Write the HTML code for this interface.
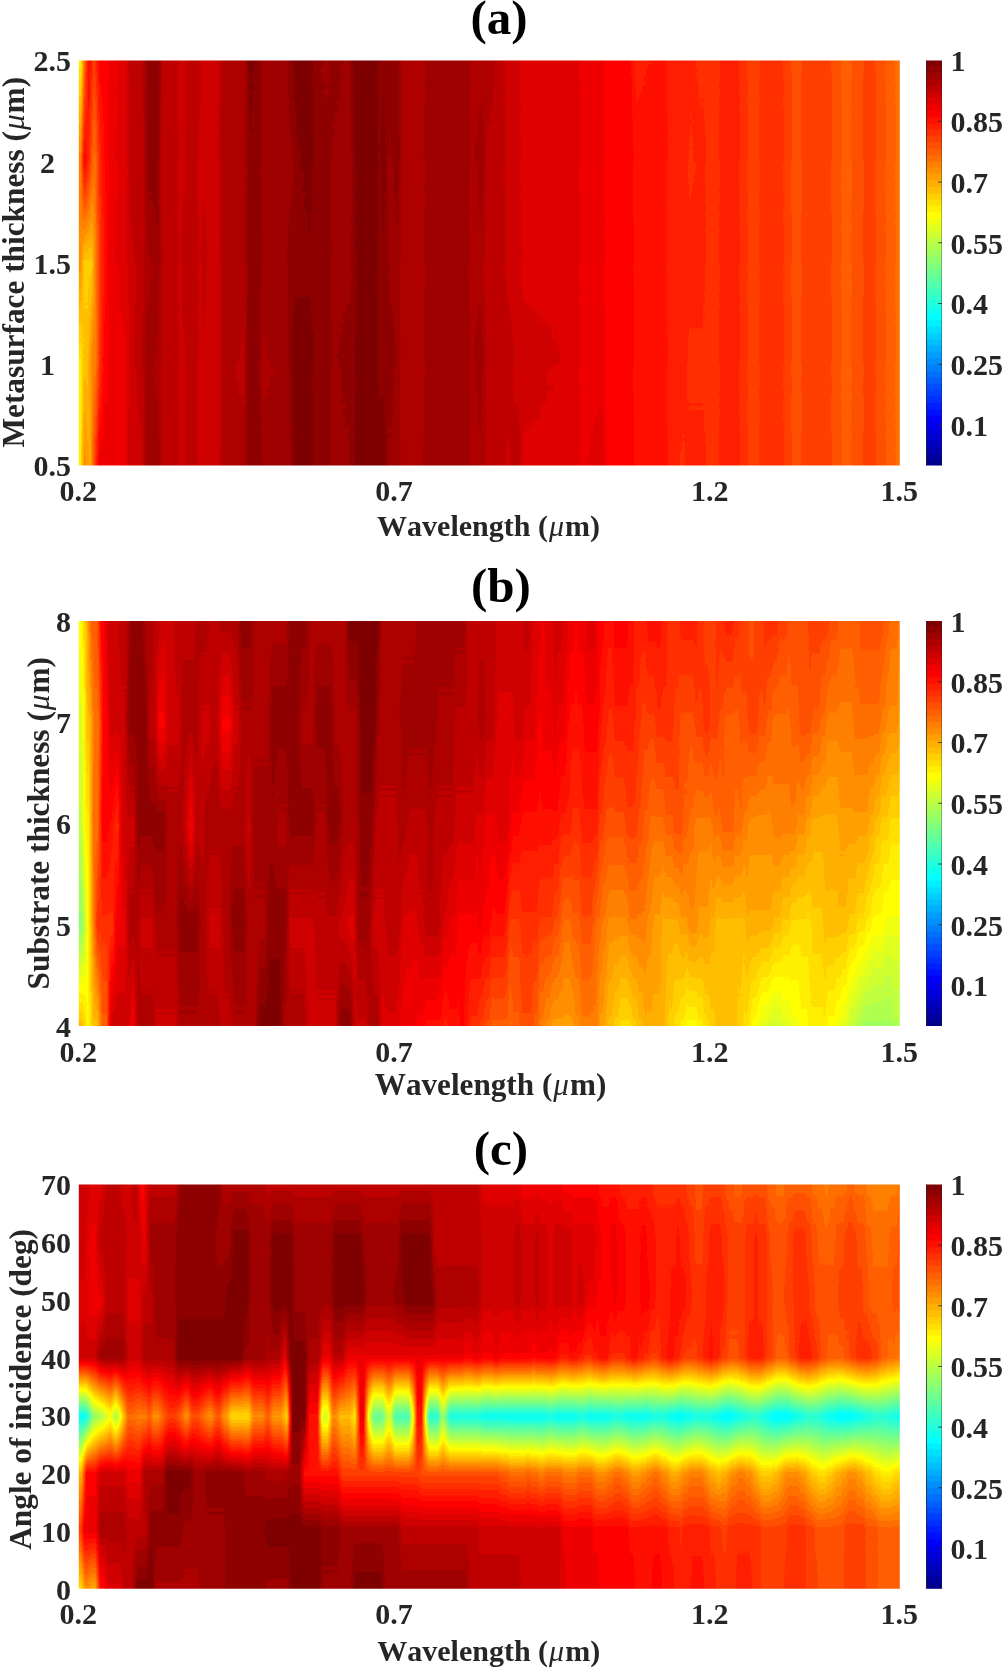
<!DOCTYPE html>
<html><head><meta charset="utf-8"><title>Figure</title>
<style>html,body{margin:0;padding:0;background:#fff;overflow:hidden}svg{display:block}text{font-family:"Liberation Serif",serif;font-weight:bold;font-size:30px;fill:#262626;font-kerning:none}.t{font-size:30px}</style></head>
<body>
<svg width="1003" height="1669" viewBox="0 0 1003 1669">
<defs>
<filter id="jet" x="0" y="0" width="1" height="1" filterUnits="objectBoundingBox" color-interpolation-filters="sRGB"><feComponentTransfer><feFuncR type="discrete" tableValues="0 0 0 0 0 0 0 0 0 0 0 0 0 0 0 0 0 0 0 0 0 0 0 0 0.0625 0.125 0.1875 0.25 0.3125 0.375 0.4375 0.5 0.5625 0.625 0.6875 0.75 0.8125 0.875 0.9375 1 1 1 1 1 1 1 1 1 1 1 1 1 1 1 1 1 0.9375 0.875 0.8125 0.75 0.6875 0.625 0.5625 0.5"/><feFuncG type="discrete" tableValues="0 0 0 0 0 0 0 0 0.0625 0.125 0.1875 0.25 0.3125 0.375 0.4375 0.5 0.5625 0.625 0.6875 0.75 0.8125 0.875 0.9375 1 1 1 1 1 1 1 1 1 1 1 1 1 1 1 1 1 0.9375 0.875 0.8125 0.75 0.6875 0.625 0.5625 0.5 0.4375 0.375 0.3125 0.25 0.1875 0.125 0.0625 0 0 0 0 0 0 0 0 0"/><feFuncB type="discrete" tableValues="0.5625 0.625 0.6875 0.75 0.8125 0.875 0.9375 1 1 1 1 1 1 1 1 1 1 1 1 1 1 1 1 1 0.9375 0.875 0.8125 0.75 0.6875 0.625 0.5625 0.5 0.4375 0.375 0.3125 0.25 0.1875 0.125 0.0625 0 0 0 0 0 0 0 0 0 0 0 0 0 0 0 0 0 0 0 0 0 0 0 0 0"/></feComponentTransfer></filter>
<filter id="jetb" x="0" y="0" width="1" height="1" filterUnits="objectBoundingBox" color-interpolation-filters="sRGB"><feGaussianBlur stdDeviation="0 1.8"/><feComponentTransfer><feFuncR type="discrete" tableValues="0 0 0 0 0 0 0 0 0 0 0 0 0 0 0 0 0 0 0 0 0 0 0 0 0.0625 0.125 0.1875 0.25 0.3125 0.375 0.4375 0.5 0.5625 0.625 0.6875 0.75 0.8125 0.875 0.9375 1 1 1 1 1 1 1 1 1 1 1 1 1 1 1 1 1 0.9375 0.875 0.8125 0.75 0.6875 0.625 0.5625 0.5"/><feFuncG type="discrete" tableValues="0 0 0 0 0 0 0 0 0.0625 0.125 0.1875 0.25 0.3125 0.375 0.4375 0.5 0.5625 0.625 0.6875 0.75 0.8125 0.875 0.9375 1 1 1 1 1 1 1 1 1 1 1 1 1 1 1 1 1 0.9375 0.875 0.8125 0.75 0.6875 0.625 0.5625 0.5 0.4375 0.375 0.3125 0.25 0.1875 0.125 0.0625 0 0 0 0 0 0 0 0 0"/><feFuncB type="discrete" tableValues="0.5625 0.625 0.6875 0.75 0.8125 0.875 0.9375 1 1 1 1 1 1 1 1 1 1 1 1 1 1 1 1 1 0.9375 0.875 0.8125 0.75 0.6875 0.625 0.5625 0.5 0.4375 0.375 0.3125 0.25 0.1875 0.125 0.0625 0 0 0 0 0 0 0 0 0 0 0 0 0 0 0 0 0 0 0 0 0 0 0 0 0"/></feComponentTransfer></filter>
<linearGradient id="va" x1="0" y1="0" x2="0" y2="1"><stop offset="0" stop-color="#fff" stop-opacity="0"/><stop offset="1" stop-color="#fff" stop-opacity="1"/></linearGradient>
<mask id="vm" maskContentUnits="objectBoundingBox"><rect width="1" height="1" fill="url(#va)"/></mask>
<linearGradient id="cbg" x1="0" y1="0" x2="0" y2="1"><stop offset="0" stop-color="#fff"/><stop offset="1" stop-color="#000"/></linearGradient>
</defs>
<rect width="1003" height="1669" fill="#fff"/>
<!-- panel a -->
<defs><linearGradient id="ar0" gradientUnits="userSpaceOnUse" x1="78.8" y1="0" x2="899.8" y2="0"><stop offset="0" stop-color="#a2a2a2"/><stop offset="0.0027" stop-color="#a2a2a2"/><stop offset="0.0076" stop-color="#c6c6c6"/><stop offset="0.0124" stop-color="#dedede"/><stop offset="0.0185" stop-color="#cecece"/><stop offset="0.0252" stop-color="#dedede"/><stop offset="0.0313" stop-color="#dedede"/><stop offset="0.0337" stop-color="#dedede"/><stop offset="0.0398" stop-color="#e2e2e2"/><stop offset="0.0572" stop-color="#e6e6e6"/><stop offset="0.0618" stop-color="#eeeeee"/><stop offset="0.0762" stop-color="#eeeeee"/><stop offset="0.0851" stop-color="#fafafa"/><stop offset="0.097" stop-color="#fafafa"/><stop offset="0.1027" stop-color="#eeeeee"/><stop offset="0.118" stop-color="#eeeeee"/><stop offset="0.123" stop-color="#eaeaea"/><stop offset="0.1283" stop-color="#eaeaea"/><stop offset="0.133" stop-color="#eeeeee"/><stop offset="0.1423" stop-color="#eeeeee"/><stop offset="0.1466" stop-color="#eeeeee"/><stop offset="0.1515" stop-color="#eaeaea"/><stop offset="0.157" stop-color="#eaeaea"/><stop offset="0.1688" stop-color="#eaeaea"/><stop offset="0.1759" stop-color="#f2f2f2"/><stop offset="0.201" stop-color="#f2f2f2"/><stop offset="0.208" stop-color="#fefefe"/><stop offset="0.2192" stop-color="#fafafa"/><stop offset="0.2246" stop-color="#f6f6f6"/><stop offset="0.2523" stop-color="#f6f6f6"/><stop offset="0.2575" stop-color="#fafafa"/><stop offset="0.2653" stop-color="#fefefe"/><stop offset="0.2817" stop-color="#fefefe"/><stop offset="0.2859" stop-color="#fafafa"/><stop offset="0.3029" stop-color="#f6f6f6"/><stop offset="0.3091" stop-color="#fafafa"/><stop offset="0.3294" stop-color="#f6f6f6"/><stop offset="0.3361" stop-color="#fefefe"/><stop offset="0.3401" stop-color="#fefefe"/><stop offset="0.3627" stop-color="#fefefe"/><stop offset="0.3651" stop-color="#fafafa"/><stop offset="0.3722" stop-color="#fafafa"/><stop offset="0.3777" stop-color="#fafafa"/><stop offset="0.3873" stop-color="#fafafa"/><stop offset="0.3951" stop-color="#f2f2f2"/><stop offset="0.419" stop-color="#f2f2f2"/><stop offset="0.4253" stop-color="#f6f6f6"/><stop offset="0.4726" stop-color="#f6f6f6"/><stop offset="0.4797" stop-color="#f2f2f2"/><stop offset="0.4891" stop-color="#f2f2f2"/><stop offset="0.4978" stop-color="#f2f2f2"/><stop offset="0.5152" stop-color="#eeeeee"/><stop offset="0.5223" stop-color="#eaeaea"/><stop offset="0.5342" stop-color="#eaeaea"/><stop offset="0.5404" stop-color="#e6e6e6"/><stop offset="0.6063" stop-color="#e6e6e6"/><stop offset="0.612" stop-color="#e2e2e2"/><stop offset="0.6364" stop-color="#e2e2e2"/><stop offset="0.6428" stop-color="#dedede"/><stop offset="0.6708" stop-color="#dedede"/><stop offset="0.6794" stop-color="#d6d6d6"/><stop offset="0.7121" stop-color="#dadada"/><stop offset="0.7197" stop-color="#d6d6d6"/><stop offset="0.7392" stop-color="#d6d6d6"/><stop offset="0.7427" stop-color="#d6d6d6"/><stop offset="0.7597" stop-color="#d2d2d2"/><stop offset="0.7658" stop-color="#d2d2d2"/><stop offset="0.778" stop-color="#d2d2d2"/><stop offset="0.784" stop-color="#d6d6d6"/><stop offset="0.8011" stop-color="#d6d6d6"/><stop offset="0.8072" stop-color="#d2d2d2"/><stop offset="0.8108" stop-color="#d2d2d2"/><stop offset="0.8169" stop-color="#cecece"/><stop offset="0.8267" stop-color="#cecece"/><stop offset="0.8328" stop-color="#d2d2d2"/><stop offset="0.8547" stop-color="#d2d2d2"/><stop offset="0.8608" stop-color="#cecece"/><stop offset="0.8644" stop-color="#cecece"/><stop offset="0.8705" stop-color="#cacaca"/><stop offset="0.8778" stop-color="#cacaca"/><stop offset="0.8839" stop-color="#cecece"/><stop offset="0.8949" stop-color="#cecece"/><stop offset="0.901" stop-color="#cecece"/><stop offset="0.9132" stop-color="#cecece"/><stop offset="0.9192" stop-color="#cacaca"/><stop offset="0.9253" stop-color="#cacaca"/><stop offset="0.9314" stop-color="#c6c6c6"/><stop offset="0.9387" stop-color="#c6c6c6"/><stop offset="0.9448" stop-color="#cacaca"/><stop offset="0.9533" stop-color="#cacaca"/><stop offset="0.9594" stop-color="#cecece"/><stop offset="0.9667" stop-color="#cecece"/><stop offset="0.9728" stop-color="#cacaca"/><stop offset="0.9789" stop-color="#cacaca"/><stop offset="0.985" stop-color="#c6c6c6"/><stop offset="0.9911" stop-color="#c6c6c6"/><stop offset="0.9972" stop-color="#c2c2c2"/><stop offset="1" stop-color="#c2c2c2"/></linearGradient><linearGradient id="ar1" gradientUnits="userSpaceOnUse" x1="78.8" y1="0" x2="899.8" y2="0"><stop offset="0" stop-color="#bebebe"/><stop offset="0.0021" stop-color="#bebebe"/><stop offset="0.0069" stop-color="#dedede"/><stop offset="0.0124" stop-color="#d2d2d2"/><stop offset="0.0179" stop-color="#c2c2c2"/><stop offset="0.0203" stop-color="#c2c2c2"/><stop offset="0.027" stop-color="#d6d6d6"/><stop offset="0.0337" stop-color="#dedede"/><stop offset="0.0398" stop-color="#e2e2e2"/><stop offset="0.0581" stop-color="#e6e6e6"/><stop offset="0.0627" stop-color="#eeeeee"/><stop offset="0.0789" stop-color="#eeeeee"/><stop offset="0.0847" stop-color="#fafafa"/><stop offset="0.096" stop-color="#fafafa"/><stop offset="0.1008" stop-color="#eeeeee"/><stop offset="0.1184" stop-color="#eeeeee"/><stop offset="0.1229" stop-color="#eaeaea"/><stop offset="0.128" stop-color="#eaeaea"/><stop offset="0.1342" stop-color="#eeeeee"/><stop offset="0.1415" stop-color="#eeeeee"/><stop offset="0.1457" stop-color="#eaeaea"/><stop offset="0.1521" stop-color="#eaeaea"/><stop offset="0.158" stop-color="#eaeaea"/><stop offset="0.1689" stop-color="#eaeaea"/><stop offset="0.1761" stop-color="#f2f2f2"/><stop offset="0.2019" stop-color="#f2f2f2"/><stop offset="0.2066" stop-color="#fafafa"/><stop offset="0.2184" stop-color="#fafafa"/><stop offset="0.2237" stop-color="#f6f6f6"/><stop offset="0.2539" stop-color="#f6f6f6"/><stop offset="0.2589" stop-color="#f6f6f6"/><stop offset="0.2644" stop-color="#fafafa"/><stop offset="0.2815" stop-color="#fefefe"/><stop offset="0.2878" stop-color="#fafafa"/><stop offset="0.3038" stop-color="#fafafa"/><stop offset="0.3096" stop-color="#f6f6f6"/><stop offset="0.3311" stop-color="#f6f6f6"/><stop offset="0.3346" stop-color="#fafafa"/><stop offset="0.3394" stop-color="#fefefe"/><stop offset="0.3614" stop-color="#fefefe"/><stop offset="0.3666" stop-color="#fafafa"/><stop offset="0.3709" stop-color="#fefefe"/><stop offset="0.3781" stop-color="#f6f6f6"/><stop offset="0.3888" stop-color="#fafafa"/><stop offset="0.3948" stop-color="#f2f2f2"/><stop offset="0.4184" stop-color="#f2f2f2"/><stop offset="0.4261" stop-color="#f6f6f6"/><stop offset="0.4712" stop-color="#f6f6f6"/><stop offset="0.4796" stop-color="#f2f2f2"/><stop offset="0.4912" stop-color="#f6f6f6"/><stop offset="0.4972" stop-color="#eeeeee"/><stop offset="0.5174" stop-color="#eeeeee"/><stop offset="0.5214" stop-color="#eaeaea"/><stop offset="0.5351" stop-color="#eaeaea"/><stop offset="0.5396" stop-color="#e6e6e6"/><stop offset="0.6072" stop-color="#e6e6e6"/><stop offset="0.6121" stop-color="#e2e2e2"/><stop offset="0.6359" stop-color="#e2e2e2"/><stop offset="0.6424" stop-color="#dedede"/><stop offset="0.6716" stop-color="#dedede"/><stop offset="0.6772" stop-color="#dadada"/><stop offset="0.712" stop-color="#dadada"/><stop offset="0.7197" stop-color="#d6d6d6"/><stop offset="0.7389" stop-color="#d6d6d6"/><stop offset="0.7442" stop-color="#d2d2d2"/><stop offset="0.7597" stop-color="#d6d6d6"/><stop offset="0.7658" stop-color="#d2d2d2"/><stop offset="0.778" stop-color="#d2d2d2"/><stop offset="0.784" stop-color="#d6d6d6"/><stop offset="0.8011" stop-color="#d6d6d6"/><stop offset="0.8072" stop-color="#d2d2d2"/><stop offset="0.8108" stop-color="#d2d2d2"/><stop offset="0.8169" stop-color="#cecece"/><stop offset="0.8267" stop-color="#cecece"/><stop offset="0.8328" stop-color="#d2d2d2"/><stop offset="0.8547" stop-color="#d2d2d2"/><stop offset="0.8608" stop-color="#cecece"/><stop offset="0.8644" stop-color="#cecece"/><stop offset="0.8705" stop-color="#cacaca"/><stop offset="0.8778" stop-color="#cacaca"/><stop offset="0.8839" stop-color="#cecece"/><stop offset="0.8949" stop-color="#cecece"/><stop offset="0.901" stop-color="#cecece"/><stop offset="0.9132" stop-color="#cecece"/><stop offset="0.9192" stop-color="#cacaca"/><stop offset="0.9253" stop-color="#cacaca"/><stop offset="0.9314" stop-color="#c6c6c6"/><stop offset="0.9387" stop-color="#c6c6c6"/><stop offset="0.9448" stop-color="#cacaca"/><stop offset="0.9533" stop-color="#cacaca"/><stop offset="0.9594" stop-color="#cecece"/><stop offset="0.9667" stop-color="#cecece"/><stop offset="0.9728" stop-color="#cacaca"/><stop offset="0.9789" stop-color="#cacaca"/><stop offset="0.985" stop-color="#c6c6c6"/><stop offset="0.9911" stop-color="#c6c6c6"/><stop offset="0.9972" stop-color="#c2c2c2"/><stop offset="1" stop-color="#c2c2c2"/></linearGradient><linearGradient id="ar2" gradientUnits="userSpaceOnUse" x1="78.8" y1="0" x2="899.8" y2="0"><stop offset="0" stop-color="#bababa"/><stop offset="0.0021" stop-color="#bababa"/><stop offset="0.0069" stop-color="#aaaaaa"/><stop offset="0.0155" stop-color="#aaaaaa"/><stop offset="0.0216" stop-color="#c2c2c2"/><stop offset="0.0276" stop-color="#d6d6d6"/><stop offset="0.0301" stop-color="#d6d6d6"/><stop offset="0.035" stop-color="#dedede"/><stop offset="0.0398" stop-color="#e2e2e2"/><stop offset="0.0569" stop-color="#e6e6e6"/><stop offset="0.064" stop-color="#eaeaea"/><stop offset="0.0776" stop-color="#eeeeee"/><stop offset="0.0832" stop-color="#f2f2f2"/><stop offset="0.0961" stop-color="#f6f6f6"/><stop offset="0.1032" stop-color="#eeeeee"/><stop offset="0.1167" stop-color="#eeeeee"/><stop offset="0.1234" stop-color="#eaeaea"/><stop offset="0.1269" stop-color="#eeeeee"/><stop offset="0.133" stop-color="#eeeeee"/><stop offset="0.1412" stop-color="#eeeeee"/><stop offset="0.1484" stop-color="#eaeaea"/><stop offset="0.1518" stop-color="#eeeeee"/><stop offset="0.1586" stop-color="#eaeaea"/><stop offset="0.1698" stop-color="#eaeaea"/><stop offset="0.1766" stop-color="#f2f2f2"/><stop offset="0.202" stop-color="#f2f2f2"/><stop offset="0.2073" stop-color="#fafafa"/><stop offset="0.2193" stop-color="#fafafa"/><stop offset="0.2246" stop-color="#f6f6f6"/><stop offset="0.2525" stop-color="#f6f6f6"/><stop offset="0.2581" stop-color="#fafafa"/><stop offset="0.2639" stop-color="#fafafa"/><stop offset="0.2802" stop-color="#fafafa"/><stop offset="0.288" stop-color="#fafafa"/><stop offset="0.3019" stop-color="#fafafa"/><stop offset="0.3098" stop-color="#f6f6f6"/><stop offset="0.3295" stop-color="#f6f6f6"/><stop offset="0.3366" stop-color="#fafafa"/><stop offset="0.3419" stop-color="#fefefe"/><stop offset="0.362" stop-color="#fefefe"/><stop offset="0.3651" stop-color="#fafafa"/><stop offset="0.373" stop-color="#fafafa"/><stop offset="0.3791" stop-color="#f6f6f6"/><stop offset="0.388" stop-color="#f6f6f6"/><stop offset="0.3931" stop-color="#f2f2f2"/><stop offset="0.4192" stop-color="#f2f2f2"/><stop offset="0.4243" stop-color="#f6f6f6"/><stop offset="0.4713" stop-color="#f6f6f6"/><stop offset="0.4769" stop-color="#f2f2f2"/><stop offset="0.4892" stop-color="#f2f2f2"/><stop offset="0.4958" stop-color="#eeeeee"/><stop offset="0.5158" stop-color="#eeeeee"/><stop offset="0.5226" stop-color="#eaeaea"/><stop offset="0.5348" stop-color="#eaeaea"/><stop offset="0.5412" stop-color="#e6e6e6"/><stop offset="0.6062" stop-color="#e6e6e6"/><stop offset="0.6125" stop-color="#e2e2e2"/><stop offset="0.6376" stop-color="#e2e2e2"/><stop offset="0.6418" stop-color="#dedede"/><stop offset="0.673" stop-color="#dedede"/><stop offset="0.6783" stop-color="#dadada"/><stop offset="0.713" stop-color="#dadada"/><stop offset="0.7182" stop-color="#d6d6d6"/><stop offset="0.7387" stop-color="#d6d6d6"/><stop offset="0.7427" stop-color="#d6d6d6"/><stop offset="0.7597" stop-color="#d6d6d6"/><stop offset="0.7658" stop-color="#d2d2d2"/><stop offset="0.778" stop-color="#d2d2d2"/><stop offset="0.784" stop-color="#d6d6d6"/><stop offset="0.8011" stop-color="#d6d6d6"/><stop offset="0.8072" stop-color="#d2d2d2"/><stop offset="0.8108" stop-color="#d2d2d2"/><stop offset="0.8169" stop-color="#cecece"/><stop offset="0.8267" stop-color="#cecece"/><stop offset="0.8328" stop-color="#d2d2d2"/><stop offset="0.8547" stop-color="#d2d2d2"/><stop offset="0.8608" stop-color="#cecece"/><stop offset="0.8644" stop-color="#cecece"/><stop offset="0.8705" stop-color="#cacaca"/><stop offset="0.8778" stop-color="#cacaca"/><stop offset="0.8839" stop-color="#cecece"/><stop offset="0.8949" stop-color="#cecece"/><stop offset="0.901" stop-color="#cecece"/><stop offset="0.9132" stop-color="#cecece"/><stop offset="0.9192" stop-color="#cacaca"/><stop offset="0.9253" stop-color="#cacaca"/><stop offset="0.9314" stop-color="#c6c6c6"/><stop offset="0.9387" stop-color="#c6c6c6"/><stop offset="0.9448" stop-color="#cacaca"/><stop offset="0.9533" stop-color="#cacaca"/><stop offset="0.9594" stop-color="#cecece"/><stop offset="0.9667" stop-color="#cecece"/><stop offset="0.9728" stop-color="#cacaca"/><stop offset="0.9789" stop-color="#cacaca"/><stop offset="0.985" stop-color="#c6c6c6"/><stop offset="0.9911" stop-color="#c6c6c6"/><stop offset="0.9972" stop-color="#c2c2c2"/><stop offset="1" stop-color="#c2c2c2"/></linearGradient><linearGradient id="ar3" gradientUnits="userSpaceOnUse" x1="78.8" y1="0" x2="899.8" y2="0"><stop offset="0" stop-color="#a2a2a2"/><stop offset="0.0021" stop-color="#a2a2a2"/><stop offset="0.0069" stop-color="#aeaeae"/><stop offset="0.0106" stop-color="#aeaeae"/><stop offset="0.0167" stop-color="#bebebe"/><stop offset="0.0203" stop-color="#bebebe"/><stop offset="0.0258" stop-color="#d2d2d2"/><stop offset="0.0313" stop-color="#dedede"/><stop offset="0.0337" stop-color="#dedede"/><stop offset="0.0398" stop-color="#e2e2e2"/><stop offset="0.0566" stop-color="#e2e2e2"/><stop offset="0.0632" stop-color="#eaeaea"/><stop offset="0.0771" stop-color="#eeeeee"/><stop offset="0.0829" stop-color="#f6f6f6"/><stop offset="0.096" stop-color="#f2f2f2"/><stop offset="0.1027" stop-color="#eeeeee"/><stop offset="0.1184" stop-color="#eeeeee"/><stop offset="0.1242" stop-color="#eaeaea"/><stop offset="0.1277" stop-color="#eaeaea"/><stop offset="0.1343" stop-color="#eeeeee"/><stop offset="0.1405" stop-color="#eeeeee"/><stop offset="0.1462" stop-color="#eaeaea"/><stop offset="0.1518" stop-color="#eaeaea"/><stop offset="0.1589" stop-color="#eaeaea"/><stop offset="0.1711" stop-color="#eaeaea"/><stop offset="0.1764" stop-color="#f2f2f2"/><stop offset="0.2012" stop-color="#eeeeee"/><stop offset="0.2061" stop-color="#fafafa"/><stop offset="0.2182" stop-color="#fafafa"/><stop offset="0.2236" stop-color="#f2f2f2"/><stop offset="0.2541" stop-color="#f6f6f6"/><stop offset="0.2578" stop-color="#fafafa"/><stop offset="0.2626" stop-color="#fefefe"/><stop offset="0.2815" stop-color="#fefefe"/><stop offset="0.2877" stop-color="#fafafa"/><stop offset="0.3041" stop-color="#fafafa"/><stop offset="0.3101" stop-color="#f6f6f6"/><stop offset="0.3289" stop-color="#fafafa"/><stop offset="0.3342" stop-color="#fafafa"/><stop offset="0.3413" stop-color="#fefefe"/><stop offset="0.3619" stop-color="#fefefe"/><stop offset="0.3657" stop-color="#fafafa"/><stop offset="0.3737" stop-color="#fafafa"/><stop offset="0.3796" stop-color="#fafafa"/><stop offset="0.389" stop-color="#f6f6f6"/><stop offset="0.393" stop-color="#f2f2f2"/><stop offset="0.4186" stop-color="#f2f2f2"/><stop offset="0.4258" stop-color="#f6f6f6"/><stop offset="0.4736" stop-color="#f6f6f6"/><stop offset="0.4782" stop-color="#f2f2f2"/><stop offset="0.4897" stop-color="#f6f6f6"/><stop offset="0.4978" stop-color="#eeeeee"/><stop offset="0.5163" stop-color="#eeeeee"/><stop offset="0.5224" stop-color="#eeeeee"/><stop offset="0.5337" stop-color="#eaeaea"/><stop offset="0.5417" stop-color="#eaeaea"/><stop offset="0.6052" stop-color="#e6e6e6"/><stop offset="0.6136" stop-color="#e2e2e2"/><stop offset="0.6368" stop-color="#e2e2e2"/><stop offset="0.643" stop-color="#dedede"/><stop offset="0.671" stop-color="#dedede"/><stop offset="0.6788" stop-color="#dadada"/><stop offset="0.7145" stop-color="#dadada"/><stop offset="0.7183" stop-color="#d6d6d6"/><stop offset="0.7375" stop-color="#d6d6d6"/><stop offset="0.7432" stop-color="#d2d2d2"/><stop offset="0.7597" stop-color="#d2d2d2"/><stop offset="0.7658" stop-color="#d2d2d2"/><stop offset="0.778" stop-color="#d2d2d2"/><stop offset="0.784" stop-color="#d6d6d6"/><stop offset="0.8011" stop-color="#d6d6d6"/><stop offset="0.8072" stop-color="#d2d2d2"/><stop offset="0.8108" stop-color="#d2d2d2"/><stop offset="0.8169" stop-color="#cecece"/><stop offset="0.8267" stop-color="#cecece"/><stop offset="0.8328" stop-color="#d2d2d2"/><stop offset="0.8547" stop-color="#d2d2d2"/><stop offset="0.8608" stop-color="#cecece"/><stop offset="0.8644" stop-color="#cecece"/><stop offset="0.8705" stop-color="#cacaca"/><stop offset="0.8778" stop-color="#cacaca"/><stop offset="0.8839" stop-color="#cecece"/><stop offset="0.8949" stop-color="#cecece"/><stop offset="0.901" stop-color="#cecece"/><stop offset="0.9132" stop-color="#cecece"/><stop offset="0.9192" stop-color="#cacaca"/><stop offset="0.9253" stop-color="#cacaca"/><stop offset="0.9314" stop-color="#c6c6c6"/><stop offset="0.9387" stop-color="#c6c6c6"/><stop offset="0.9448" stop-color="#cacaca"/><stop offset="0.9533" stop-color="#cacaca"/><stop offset="0.9594" stop-color="#cecece"/><stop offset="0.9667" stop-color="#cecece"/><stop offset="0.9728" stop-color="#cacaca"/><stop offset="0.9789" stop-color="#cacaca"/><stop offset="0.985" stop-color="#c6c6c6"/><stop offset="0.9911" stop-color="#c6c6c6"/><stop offset="0.9972" stop-color="#c2c2c2"/><stop offset="1" stop-color="#c2c2c2"/></linearGradient><linearGradient id="ar4" gradientUnits="userSpaceOnUse" x1="78.8" y1="0" x2="899.8" y2="0"><stop offset="0" stop-color="#a2a2a2"/><stop offset="0.0021" stop-color="#a2a2a2"/><stop offset="0.0069" stop-color="#bababa"/><stop offset="0.0136" stop-color="#b2b2b2"/><stop offset="0.0197" stop-color="#cecece"/><stop offset="0.0252" stop-color="#e2e2e2"/><stop offset="0.0337" stop-color="#e2e2e2"/><stop offset="0.0398" stop-color="#e2e2e2"/><stop offset="0.0569" stop-color="#e2e2e2"/><stop offset="0.0616" stop-color="#eaeaea"/><stop offset="0.0767" stop-color="#eaeaea"/><stop offset="0.0841" stop-color="#f6f6f6"/><stop offset="0.0971" stop-color="#f6f6f6"/><stop offset="0.1023" stop-color="#eeeeee"/><stop offset="0.1173" stop-color="#eeeeee"/><stop offset="0.1245" stop-color="#eaeaea"/><stop offset="0.127" stop-color="#eaeaea"/><stop offset="0.133" stop-color="#eeeeee"/><stop offset="0.1407" stop-color="#eeeeee"/><stop offset="0.1459" stop-color="#eaeaea"/><stop offset="0.1514" stop-color="#eaeaea"/><stop offset="0.1586" stop-color="#eaeaea"/><stop offset="0.1703" stop-color="#eaeaea"/><stop offset="0.1768" stop-color="#f2f2f2"/><stop offset="0.2005" stop-color="#f2f2f2"/><stop offset="0.2079" stop-color="#fafafa"/><stop offset="0.2202" stop-color="#fafafa"/><stop offset="0.2245" stop-color="#f6f6f6"/><stop offset="0.2534" stop-color="#f6f6f6"/><stop offset="0.2576" stop-color="#f6f6f6"/><stop offset="0.2647" stop-color="#fefefe"/><stop offset="0.2817" stop-color="#fefefe"/><stop offset="0.2874" stop-color="#fafafa"/><stop offset="0.3039" stop-color="#fafafa"/><stop offset="0.3079" stop-color="#f6f6f6"/><stop offset="0.3289" stop-color="#f6f6f6"/><stop offset="0.3338" stop-color="#fafafa"/><stop offset="0.34" stop-color="#fefefe"/><stop offset="0.3637" stop-color="#fefefe"/><stop offset="0.3654" stop-color="#fefefe"/><stop offset="0.3718" stop-color="#fefefe"/><stop offset="0.3774" stop-color="#f6f6f6"/><stop offset="0.3876" stop-color="#f6f6f6"/><stop offset="0.3935" stop-color="#f2f2f2"/><stop offset="0.4179" stop-color="#f2f2f2"/><stop offset="0.4236" stop-color="#f6f6f6"/><stop offset="0.473" stop-color="#f6f6f6"/><stop offset="0.4773" stop-color="#f2f2f2"/><stop offset="0.4902" stop-color="#f2f2f2"/><stop offset="0.4969" stop-color="#eeeeee"/><stop offset="0.5149" stop-color="#eeeeee"/><stop offset="0.5224" stop-color="#eaeaea"/><stop offset="0.5357" stop-color="#eeeeee"/><stop offset="0.5407" stop-color="#e6e6e6"/><stop offset="0.6058" stop-color="#e6e6e6"/><stop offset="0.613" stop-color="#e2e2e2"/><stop offset="0.6373" stop-color="#e6e6e6"/><stop offset="0.6439" stop-color="#dedede"/><stop offset="0.673" stop-color="#dedede"/><stop offset="0.6786" stop-color="#dadada"/><stop offset="0.7126" stop-color="#dadada"/><stop offset="0.7196" stop-color="#d6d6d6"/><stop offset="0.7368" stop-color="#d2d2d2"/><stop offset="0.7433" stop-color="#d6d6d6"/><stop offset="0.7597" stop-color="#d6d6d6"/><stop offset="0.7658" stop-color="#d2d2d2"/><stop offset="0.778" stop-color="#d2d2d2"/><stop offset="0.784" stop-color="#d6d6d6"/><stop offset="0.8011" stop-color="#d6d6d6"/><stop offset="0.8072" stop-color="#d2d2d2"/><stop offset="0.8108" stop-color="#d2d2d2"/><stop offset="0.8169" stop-color="#cecece"/><stop offset="0.8267" stop-color="#cecece"/><stop offset="0.8328" stop-color="#d2d2d2"/><stop offset="0.8547" stop-color="#d2d2d2"/><stop offset="0.8608" stop-color="#cecece"/><stop offset="0.8644" stop-color="#cecece"/><stop offset="0.8705" stop-color="#cacaca"/><stop offset="0.8778" stop-color="#cacaca"/><stop offset="0.8839" stop-color="#cecece"/><stop offset="0.8949" stop-color="#cecece"/><stop offset="0.901" stop-color="#cecece"/><stop offset="0.9132" stop-color="#cecece"/><stop offset="0.9192" stop-color="#cacaca"/><stop offset="0.9253" stop-color="#cacaca"/><stop offset="0.9314" stop-color="#c6c6c6"/><stop offset="0.9387" stop-color="#c6c6c6"/><stop offset="0.9448" stop-color="#cacaca"/><stop offset="0.9533" stop-color="#cacaca"/><stop offset="0.9594" stop-color="#cecece"/><stop offset="0.9667" stop-color="#cecece"/><stop offset="0.9728" stop-color="#cacaca"/><stop offset="0.9789" stop-color="#cacaca"/><stop offset="0.985" stop-color="#c6c6c6"/><stop offset="0.9911" stop-color="#c6c6c6"/><stop offset="0.9972" stop-color="#c2c2c2"/><stop offset="1" stop-color="#c2c2c2"/></linearGradient><clipPath id="ac"><rect x="78.8" y="60.5" width="821" height="405"/></clipPath></defs>
<g clip-path="url(#ac)" filter="url(#jetb)">
<rect x="77" y="50" width="824" height="11" fill="url(#ar0)"/>
<rect x="77" y="465" width="824" height="11" fill="url(#ar4)"/>
<rect x="77" y="60" width="824" height="102" fill="url(#ar0)"/>
<rect x="77" y="60" width="824" height="102" fill="url(#ar1)" mask="url(#vm)"/>
<rect x="77" y="162" width="824" height="101" fill="url(#ar1)"/>
<rect x="77" y="162" width="824" height="101" fill="url(#ar2)" mask="url(#vm)"/>
<rect x="77" y="263" width="824" height="101" fill="url(#ar2)"/>
<rect x="77" y="263" width="824" height="101" fill="url(#ar3)" mask="url(#vm)"/>
<rect x="77" y="364" width="824" height="102" fill="url(#ar3)"/>
<rect x="77" y="364" width="824" height="102" fill="url(#ar4)" mask="url(#vm)"/>
</g>
<g filter="url(#jet)"><rect x="926" y="60.5" width="16" height="405" fill="url(#cbg)"/></g>
<rect x="926" y="60.5" width="1" height="405" fill="#262626" opacity="0.75"/>
<rect x="941.3" y="60.5" width="0.7" height="405" fill="#262626" opacity="0.45"/>
<rect x="938" y="120.75" width="4" height="1" fill="#262626" opacity="0.8"/>
<rect x="938" y="181.5" width="4" height="1" fill="#262626" opacity="0.8"/>
<rect x="938" y="242.25" width="4" height="1" fill="#262626" opacity="0.8"/>
<rect x="938" y="303" width="4" height="1" fill="#262626" opacity="0.8"/>
<rect x="938" y="363.75" width="4" height="1" fill="#262626" opacity="0.8"/>
<rect x="938" y="424.5" width="4" height="1" fill="#262626" opacity="0.8"/>
<g opacity="0.999"><text x="499" y="34" text-anchor="middle" style="font-size:49px;fill:#000">(a)</text>
<text x="78.3" y="501.1" text-anchor="middle" class="t">0.2</text>
<text x="394.0692" y="501.1" text-anchor="middle" class="t">0.7</text>
<text x="709.8385" y="501.1" text-anchor="middle" class="t">1.2</text>
<text x="899.3" y="501.1" text-anchor="middle" class="t">1.5</text>
<text x="488.5" y="536.3" text-anchor="middle" style="font-size:30px">Wavelength (<tspan font-style="italic" font-weight="normal" dx="1">μ</tspan><tspan dx="1">m)</tspan></text>
<text x="71" y="476.4" text-anchor="end" class="t">0.5</text>
<text x="55" y="375.15" text-anchor="end" class="t">1</text>
<text x="71" y="273.9" text-anchor="end" class="t">1.5</text>
<text x="55" y="172.65" text-anchor="end" class="t">2</text>
<text x="71" y="71.4" text-anchor="end" class="t">2.5</text>
<text x="950.5" y="71.4" text-anchor="start" class="t">1</text>
<text x="950.5" y="132.15" text-anchor="start" class="t">0.85</text>
<text x="950.5" y="192.9" text-anchor="start" class="t">0.7</text>
<text x="950.5" y="253.65" text-anchor="start" class="t">0.55</text>
<text x="950.5" y="314.4" text-anchor="start" class="t">0.4</text>
<text x="950.5" y="375.15" text-anchor="start" class="t">0.25</text>
<text x="950.5" y="435.9" text-anchor="start" class="t">0.1</text>
<text transform="translate(24 262.2) rotate(-90)" text-anchor="middle" style="font-size:31.3px">Metasurface thickness (<tspan font-style="italic" font-weight="normal" dx="1">μ</tspan><tspan dx="1">m)</tspan></text></g>
<!-- panel b -->
<defs><linearGradient id="br0" gradientUnits="userSpaceOnUse" x1="78.8" y1="0" x2="899.8" y2="0"><stop offset="0" stop-color="#9e9e9e"/><stop offset="0.0027" stop-color="#9e9e9e"/><stop offset="0.0088" stop-color="#aeaeae"/><stop offset="0.0155" stop-color="#c6c6c6"/><stop offset="0.0216" stop-color="#c6c6c6"/><stop offset="0.0276" stop-color="#dedede"/><stop offset="0.0301" stop-color="#dedede"/><stop offset="0.0362" stop-color="#eaeaea"/><stop offset="0.0459" stop-color="#eaeaea"/><stop offset="0.052" stop-color="#eeeeee"/><stop offset="0.0581" stop-color="#eeeeee"/><stop offset="0.0642" stop-color="#fafafa"/><stop offset="0.0764" stop-color="#fafafa"/><stop offset="0.0825" stop-color="#f2f2f2"/><stop offset="0.0886" stop-color="#f2f2f2"/><stop offset="0.0946" stop-color="#eeeeee"/><stop offset="0.0971" stop-color="#eeeeee"/><stop offset="0.1032" stop-color="#eaeaea"/><stop offset="0.1129" stop-color="#eaeaea"/><stop offset="0.119" stop-color="#eeeeee"/><stop offset="0.1397" stop-color="#eeeeee"/><stop offset="0.1458" stop-color="#f2f2f2"/><stop offset="0.1555" stop-color="#f2f2f2"/><stop offset="0.1616" stop-color="#eeeeee"/><stop offset="0.1677" stop-color="#eeeeee"/><stop offset="0.1738" stop-color="#f2f2f2"/><stop offset="0.1921" stop-color="#f2f2f2"/><stop offset="0.1982" stop-color="#fafafa"/><stop offset="0.2091" stop-color="#fafafa"/><stop offset="0.2152" stop-color="#f2f2f2"/><stop offset="0.2213" stop-color="#f2f2f2"/><stop offset="0.2274" stop-color="#f2f2f2"/><stop offset="0.2518" stop-color="#f2f2f2"/><stop offset="0.2579" stop-color="#fafafa"/><stop offset="0.2761" stop-color="#fafafa"/><stop offset="0.2822" stop-color="#f2f2f2"/><stop offset="0.3017" stop-color="#f2f2f2"/><stop offset="0.3078" stop-color="#f2f2f2"/><stop offset="0.3236" stop-color="#f2f2f2"/><stop offset="0.3297" stop-color="#fefefe"/><stop offset="0.3638" stop-color="#fefefe"/><stop offset="0.3699" stop-color="#f2f2f2"/><stop offset="0.4077" stop-color="#f2f2f2"/><stop offset="0.4156" stop-color="#f6f6f6"/><stop offset="0.4192" stop-color="#f6f6f6"/><stop offset="0.4229" stop-color="#f6f6f6"/><stop offset="0.4266" stop-color="#f6f6f6"/><stop offset="0.4302" stop-color="#f6f6f6"/><stop offset="0.4339" stop-color="#f6f6f6"/><stop offset="0.4375" stop-color="#f6f6f6"/><stop offset="0.4412" stop-color="#f6f6f6"/><stop offset="0.4448" stop-color="#f6f6f6"/><stop offset="0.4485" stop-color="#f6f6f6"/><stop offset="0.4521" stop-color="#f6f6f6"/><stop offset="0.4558" stop-color="#f6f6f6"/><stop offset="0.4594" stop-color="#f6f6f6"/><stop offset="0.4631" stop-color="#f6f6f6"/><stop offset="0.4667" stop-color="#f6f6f6"/><stop offset="0.4704" stop-color="#f6f6f6"/><stop offset="0.4741" stop-color="#eeeeee"/><stop offset="0.4777" stop-color="#eeeeee"/><stop offset="0.4814" stop-color="#eeeeee"/><stop offset="0.485" stop-color="#eeeeee"/><stop offset="0.4887" stop-color="#eeeeee"/><stop offset="0.4923" stop-color="#eeeeee"/><stop offset="0.496" stop-color="#eeeeee"/><stop offset="0.4996" stop-color="#eeeeee"/><stop offset="0.5033" stop-color="#eeeeee"/><stop offset="0.5069" stop-color="#eeeeee"/><stop offset="0.5106" stop-color="#eaeaea"/><stop offset="0.5143" stop-color="#eaeaea"/><stop offset="0.5179" stop-color="#eaeaea"/><stop offset="0.5216" stop-color="#eaeaea"/><stop offset="0.5252" stop-color="#eaeaea"/><stop offset="0.5289" stop-color="#eaeaea"/><stop offset="0.5325" stop-color="#eaeaea"/><stop offset="0.5362" stop-color="#eaeaea"/><stop offset="0.5398" stop-color="#eaeaea"/><stop offset="0.5435" stop-color="#eeeeee"/><stop offset="0.5471" stop-color="#eeeeee"/><stop offset="0.5508" stop-color="#eaeaea"/><stop offset="0.5544" stop-color="#e6e6e6"/><stop offset="0.5581" stop-color="#e6e6e6"/><stop offset="0.5618" stop-color="#e6e6e6"/><stop offset="0.5654" stop-color="#e2e2e2"/><stop offset="0.5691" stop-color="#e6e6e6"/><stop offset="0.5727" stop-color="#e6e6e6"/><stop offset="0.5764" stop-color="#e6e6e6"/><stop offset="0.58" stop-color="#eaeaea"/><stop offset="0.5837" stop-color="#eaeaea"/><stop offset="0.5873" stop-color="#eaeaea"/><stop offset="0.591" stop-color="#e6e6e6"/><stop offset="0.5946" stop-color="#e6e6e6"/><stop offset="0.5983" stop-color="#e2e2e2"/><stop offset="0.6019" stop-color="#e2e2e2"/><stop offset="0.6056" stop-color="#dedede"/><stop offset="0.6093" stop-color="#e2e2e2"/><stop offset="0.6129" stop-color="#e2e2e2"/><stop offset="0.6166" stop-color="#e2e2e2"/><stop offset="0.6202" stop-color="#e6e6e6"/><stop offset="0.6239" stop-color="#e6e6e6"/><stop offset="0.6275" stop-color="#e6e6e6"/><stop offset="0.6312" stop-color="#e2e2e2"/><stop offset="0.6348" stop-color="#dedede"/><stop offset="0.6385" stop-color="#dedede"/><stop offset="0.6421" stop-color="#dadada"/><stop offset="0.6458" stop-color="#dadada"/><stop offset="0.6495" stop-color="#dadada"/><stop offset="0.6531" stop-color="#dedede"/><stop offset="0.6568" stop-color="#dedede"/><stop offset="0.6604" stop-color="#dedede"/><stop offset="0.6641" stop-color="#dedede"/><stop offset="0.6677" stop-color="#dedede"/><stop offset="0.6714" stop-color="#dadada"/><stop offset="0.675" stop-color="#dadada"/><stop offset="0.6787" stop-color="#d6d6d6"/><stop offset="0.6823" stop-color="#d6d6d6"/><stop offset="0.686" stop-color="#d6d6d6"/><stop offset="0.6896" stop-color="#d6d6d6"/><stop offset="0.6933" stop-color="#dadada"/><stop offset="0.697" stop-color="#dadada"/><stop offset="0.7006" stop-color="#dadada"/><stop offset="0.7043" stop-color="#dadada"/><stop offset="0.7079" stop-color="#dadada"/><stop offset="0.7116" stop-color="#d6d6d6"/><stop offset="0.7152" stop-color="#d6d6d6"/><stop offset="0.7189" stop-color="#d2d2d2"/><stop offset="0.7225" stop-color="#d2d2d2"/><stop offset="0.7262" stop-color="#d2d2d2"/><stop offset="0.7298" stop-color="#d2d2d2"/><stop offset="0.7335" stop-color="#d6d6d6"/><stop offset="0.7371" stop-color="#d6d6d6"/><stop offset="0.7408" stop-color="#d6d6d6"/><stop offset="0.7445" stop-color="#d6d6d6"/><stop offset="0.7481" stop-color="#d6d6d6"/><stop offset="0.7518" stop-color="#d6d6d6"/><stop offset="0.7554" stop-color="#d2d2d2"/><stop offset="0.7591" stop-color="#d2d2d2"/><stop offset="0.7627" stop-color="#cecece"/><stop offset="0.7664" stop-color="#cecece"/><stop offset="0.77" stop-color="#cecece"/><stop offset="0.7737" stop-color="#cecece"/><stop offset="0.7773" stop-color="#d2d2d2"/><stop offset="0.781" stop-color="#d2d2d2"/><stop offset="0.7847" stop-color="#d2d2d2"/><stop offset="0.7883" stop-color="#d6d6d6"/><stop offset="0.792" stop-color="#d6d6d6"/><stop offset="0.7956" stop-color="#d6d6d6"/><stop offset="0.7993" stop-color="#d2d2d2"/><stop offset="0.8029" stop-color="#d2d2d2"/><stop offset="0.8066" stop-color="#cecece"/><stop offset="0.8102" stop-color="#cecece"/><stop offset="0.8139" stop-color="#cecece"/><stop offset="0.8175" stop-color="#cacaca"/><stop offset="0.8212" stop-color="#cacaca"/><stop offset="0.8248" stop-color="#cecece"/><stop offset="0.8285" stop-color="#cecece"/><stop offset="0.8322" stop-color="#cecece"/><stop offset="0.8358" stop-color="#d2d2d2"/><stop offset="0.8395" stop-color="#d2d2d2"/><stop offset="0.8431" stop-color="#d2d2d2"/><stop offset="0.8468" stop-color="#d2d2d2"/><stop offset="0.8504" stop-color="#d2d2d2"/><stop offset="0.8541" stop-color="#cecece"/><stop offset="0.8577" stop-color="#cecece"/><stop offset="0.8614" stop-color="#cecece"/><stop offset="0.865" stop-color="#cacaca"/><stop offset="0.8687" stop-color="#cacaca"/><stop offset="0.8724" stop-color="#cacaca"/><stop offset="0.876" stop-color="#cacaca"/><stop offset="0.8797" stop-color="#cacaca"/><stop offset="0.8833" stop-color="#cacaca"/><stop offset="0.887" stop-color="#cacaca"/><stop offset="0.8906" stop-color="#cecece"/><stop offset="0.8943" stop-color="#cecece"/><stop offset="0.8979" stop-color="#cecece"/><stop offset="0.9016" stop-color="#cecece"/><stop offset="0.9052" stop-color="#cecece"/><stop offset="0.9089" stop-color="#cecece"/><stop offset="0.9125" stop-color="#cecece"/><stop offset="0.9162" stop-color="#cacaca"/><stop offset="0.9199" stop-color="#cacaca"/><stop offset="0.9235" stop-color="#cacaca"/><stop offset="0.9272" stop-color="#c6c6c6"/><stop offset="0.9308" stop-color="#c6c6c6"/><stop offset="0.9345" stop-color="#c6c6c6"/><stop offset="0.9381" stop-color="#c6c6c6"/><stop offset="0.9418" stop-color="#c6c6c6"/><stop offset="0.9454" stop-color="#c6c6c6"/><stop offset="0.9491" stop-color="#c6c6c6"/><stop offset="0.9527" stop-color="#cacaca"/><stop offset="0.9564" stop-color="#cacaca"/><stop offset="0.96" stop-color="#cacaca"/><stop offset="0.9637" stop-color="#cacaca"/><stop offset="0.9674" stop-color="#cacaca"/><stop offset="0.971" stop-color="#cacaca"/><stop offset="0.9747" stop-color="#cacaca"/><stop offset="0.9783" stop-color="#cacaca"/><stop offset="0.982" stop-color="#c6c6c6"/><stop offset="0.9856" stop-color="#c6c6c6"/><stop offset="0.9893" stop-color="#c2c2c2"/><stop offset="0.9929" stop-color="#c2c2c2"/><stop offset="0.9966" stop-color="#c2c2c2"/><stop offset="1" stop-color="#bebebe"/></linearGradient><linearGradient id="br1" gradientUnits="userSpaceOnUse" x1="78.8" y1="0" x2="899.8" y2="0"><stop offset="0" stop-color="#969696"/><stop offset="0.0039" stop-color="#969696"/><stop offset="0.0106" stop-color="#aeaeae"/><stop offset="0.013" stop-color="#aeaeae"/><stop offset="0.0191" stop-color="#c2c2c2"/><stop offset="0.024" stop-color="#c2c2c2"/><stop offset="0.0301" stop-color="#dedede"/><stop offset="0.0337" stop-color="#dedede"/><stop offset="0.0398" stop-color="#eaeaea"/><stop offset="0.0557" stop-color="#eaeaea"/><stop offset="0.0618" stop-color="#fafafa"/><stop offset="0.0812" stop-color="#fafafa"/><stop offset="0.0873" stop-color="#eeeeee"/><stop offset="0.0922" stop-color="#eeeeee"/><stop offset="0.0983" stop-color="#dedede"/><stop offset="0.1032" stop-color="#dedede"/><stop offset="0.1093" stop-color="#eaeaea"/><stop offset="0.1214" stop-color="#eaeaea"/><stop offset="0.1275" stop-color="#f2f2f2"/><stop offset="0.1324" stop-color="#f2f2f2"/><stop offset="0.1385" stop-color="#f2f2f2"/><stop offset="0.1434" stop-color="#f2f2f2"/><stop offset="0.1495" stop-color="#eaeaea"/><stop offset="0.158" stop-color="#eaeaea"/><stop offset="0.1641" stop-color="#eeeeee"/><stop offset="0.1689" stop-color="#eeeeee"/><stop offset="0.175" stop-color="#dedede"/><stop offset="0.1836" stop-color="#dedede"/><stop offset="0.1896" stop-color="#eaeaea"/><stop offset="0.1933" stop-color="#eaeaea"/><stop offset="0.1994" stop-color="#f2f2f2"/><stop offset="0.2152" stop-color="#f2f2f2"/><stop offset="0.2213" stop-color="#f2f2f2"/><stop offset="0.2298" stop-color="#f2f2f2"/><stop offset="0.2359" stop-color="#fafafa"/><stop offset="0.2481" stop-color="#fafafa"/><stop offset="0.2542" stop-color="#fafafa"/><stop offset="0.2664" stop-color="#fafafa"/><stop offset="0.2725" stop-color="#f2f2f2"/><stop offset="0.2847" stop-color="#f2f2f2"/><stop offset="0.2907" stop-color="#fafafa"/><stop offset="0.3066" stop-color="#fafafa"/><stop offset="0.3127" stop-color="#f2f2f2"/><stop offset="0.3248" stop-color="#f2f2f2"/><stop offset="0.3309" stop-color="#f2f2f2"/><stop offset="0.3382" stop-color="#f2f2f2"/><stop offset="0.3443" stop-color="#fefefe"/><stop offset="0.3602" stop-color="#fefefe"/><stop offset="0.3663" stop-color="#f2f2f2"/><stop offset="0.3894" stop-color="#f2f2f2"/><stop offset="0.3955" stop-color="#f6f6f6"/><stop offset="0.4156" stop-color="#f6f6f6"/><stop offset="0.4192" stop-color="#f6f6f6"/><stop offset="0.4229" stop-color="#f6f6f6"/><stop offset="0.4266" stop-color="#f6f6f6"/><stop offset="0.4302" stop-color="#f6f6f6"/><stop offset="0.4339" stop-color="#f6f6f6"/><stop offset="0.4375" stop-color="#f2f2f2"/><stop offset="0.4412" stop-color="#f2f2f2"/><stop offset="0.4448" stop-color="#f2f2f2"/><stop offset="0.4485" stop-color="#f2f2f2"/><stop offset="0.4521" stop-color="#f2f2f2"/><stop offset="0.4558" stop-color="#f2f2f2"/><stop offset="0.4594" stop-color="#eeeeee"/><stop offset="0.4631" stop-color="#eeeeee"/><stop offset="0.4667" stop-color="#eeeeee"/><stop offset="0.4704" stop-color="#eeeeee"/><stop offset="0.4741" stop-color="#eeeeee"/><stop offset="0.4777" stop-color="#eeeeee"/><stop offset="0.4814" stop-color="#eeeeee"/><stop offset="0.485" stop-color="#eeeeee"/><stop offset="0.4887" stop-color="#f2f2f2"/><stop offset="0.4923" stop-color="#f2f2f2"/><stop offset="0.496" stop-color="#eeeeee"/><stop offset="0.4996" stop-color="#eeeeee"/><stop offset="0.5033" stop-color="#eeeeee"/><stop offset="0.5069" stop-color="#eaeaea"/><stop offset="0.5106" stop-color="#e6e6e6"/><stop offset="0.5143" stop-color="#e6e6e6"/><stop offset="0.5179" stop-color="#e6e6e6"/><stop offset="0.5216" stop-color="#e6e6e6"/><stop offset="0.5252" stop-color="#e6e6e6"/><stop offset="0.5289" stop-color="#e6e6e6"/><stop offset="0.5325" stop-color="#eaeaea"/><stop offset="0.5362" stop-color="#eaeaea"/><stop offset="0.5398" stop-color="#eaeaea"/><stop offset="0.5435" stop-color="#e6e6e6"/><stop offset="0.5471" stop-color="#e6e6e6"/><stop offset="0.5508" stop-color="#e6e6e6"/><stop offset="0.5544" stop-color="#e6e6e6"/><stop offset="0.5581" stop-color="#e2e2e2"/><stop offset="0.5618" stop-color="#dedede"/><stop offset="0.5654" stop-color="#e2e2e2"/><stop offset="0.5691" stop-color="#e2e2e2"/><stop offset="0.5727" stop-color="#e2e2e2"/><stop offset="0.5764" stop-color="#e2e2e2"/><stop offset="0.58" stop-color="#e6e6e6"/><stop offset="0.5837" stop-color="#e2e2e2"/><stop offset="0.5873" stop-color="#e2e2e2"/><stop offset="0.591" stop-color="#e2e2e2"/><stop offset="0.5946" stop-color="#dedede"/><stop offset="0.5983" stop-color="#dadada"/><stop offset="0.6019" stop-color="#dadada"/><stop offset="0.6056" stop-color="#dadada"/><stop offset="0.6093" stop-color="#dadada"/><stop offset="0.6129" stop-color="#dadada"/><stop offset="0.6166" stop-color="#dedede"/><stop offset="0.6202" stop-color="#dedede"/><stop offset="0.6239" stop-color="#dedede"/><stop offset="0.6275" stop-color="#dedede"/><stop offset="0.6312" stop-color="#dedede"/><stop offset="0.6348" stop-color="#dadada"/><stop offset="0.6385" stop-color="#d6d6d6"/><stop offset="0.6421" stop-color="#d6d6d6"/><stop offset="0.6458" stop-color="#d2d2d2"/><stop offset="0.6495" stop-color="#d2d2d2"/><stop offset="0.6531" stop-color="#d6d6d6"/><stop offset="0.6568" stop-color="#d6d6d6"/><stop offset="0.6604" stop-color="#d6d6d6"/><stop offset="0.6641" stop-color="#d6d6d6"/><stop offset="0.6677" stop-color="#d6d6d6"/><stop offset="0.6714" stop-color="#d6d6d6"/><stop offset="0.675" stop-color="#d6d6d6"/><stop offset="0.6787" stop-color="#d2d2d2"/><stop offset="0.6823" stop-color="#d2d2d2"/><stop offset="0.686" stop-color="#cecece"/><stop offset="0.6896" stop-color="#cecece"/><stop offset="0.6933" stop-color="#cecece"/><stop offset="0.697" stop-color="#cecece"/><stop offset="0.7006" stop-color="#cecece"/><stop offset="0.7043" stop-color="#d2d2d2"/><stop offset="0.7079" stop-color="#d2d2d2"/><stop offset="0.7116" stop-color="#d2d2d2"/><stop offset="0.7152" stop-color="#d2d2d2"/><stop offset="0.7189" stop-color="#d2d2d2"/><stop offset="0.7225" stop-color="#d2d2d2"/><stop offset="0.7262" stop-color="#cecece"/><stop offset="0.7298" stop-color="#cecece"/><stop offset="0.7335" stop-color="#cacaca"/><stop offset="0.7371" stop-color="#cacaca"/><stop offset="0.7408" stop-color="#cacaca"/><stop offset="0.7445" stop-color="#cacaca"/><stop offset="0.7481" stop-color="#cacaca"/><stop offset="0.7518" stop-color="#cecece"/><stop offset="0.7554" stop-color="#cecece"/><stop offset="0.7591" stop-color="#cecece"/><stop offset="0.7627" stop-color="#d2d2d2"/><stop offset="0.7664" stop-color="#d2d2d2"/><stop offset="0.77" stop-color="#cecece"/><stop offset="0.7737" stop-color="#cecece"/><stop offset="0.7773" stop-color="#cecece"/><stop offset="0.781" stop-color="#cacaca"/><stop offset="0.7847" stop-color="#cacaca"/><stop offset="0.7883" stop-color="#c6c6c6"/><stop offset="0.792" stop-color="#c6c6c6"/><stop offset="0.7956" stop-color="#c6c6c6"/><stop offset="0.7993" stop-color="#c6c6c6"/><stop offset="0.8029" stop-color="#c6c6c6"/><stop offset="0.8066" stop-color="#cacaca"/><stop offset="0.8102" stop-color="#cacaca"/><stop offset="0.8139" stop-color="#cacaca"/><stop offset="0.8175" stop-color="#cecece"/><stop offset="0.8212" stop-color="#cecece"/><stop offset="0.8248" stop-color="#cecece"/><stop offset="0.8285" stop-color="#cacaca"/><stop offset="0.8322" stop-color="#cacaca"/><stop offset="0.8358" stop-color="#cacaca"/><stop offset="0.8395" stop-color="#c6c6c6"/><stop offset="0.8431" stop-color="#c6c6c6"/><stop offset="0.8468" stop-color="#c2c2c2"/><stop offset="0.8504" stop-color="#c2c2c2"/><stop offset="0.8541" stop-color="#c2c2c2"/><stop offset="0.8577" stop-color="#c2c2c2"/><stop offset="0.8614" stop-color="#c2c2c2"/><stop offset="0.865" stop-color="#c2c2c2"/><stop offset="0.8687" stop-color="#c6c6c6"/><stop offset="0.8724" stop-color="#c6c6c6"/><stop offset="0.876" stop-color="#c6c6c6"/><stop offset="0.8797" stop-color="#cacaca"/><stop offset="0.8833" stop-color="#cacaca"/><stop offset="0.887" stop-color="#cacaca"/><stop offset="0.8906" stop-color="#cacaca"/><stop offset="0.8943" stop-color="#c6c6c6"/><stop offset="0.8979" stop-color="#c6c6c6"/><stop offset="0.9016" stop-color="#c6c6c6"/><stop offset="0.9052" stop-color="#c2c2c2"/><stop offset="0.9089" stop-color="#c2c2c2"/><stop offset="0.9125" stop-color="#bebebe"/><stop offset="0.9162" stop-color="#bebebe"/><stop offset="0.9199" stop-color="#bebebe"/><stop offset="0.9235" stop-color="#bebebe"/><stop offset="0.9272" stop-color="#bebebe"/><stop offset="0.9308" stop-color="#bebebe"/><stop offset="0.9345" stop-color="#bebebe"/><stop offset="0.9381" stop-color="#bebebe"/><stop offset="0.9418" stop-color="#bebebe"/><stop offset="0.9454" stop-color="#c2c2c2"/><stop offset="0.9491" stop-color="#c2c2c2"/><stop offset="0.9527" stop-color="#c2c2c2"/><stop offset="0.9564" stop-color="#c2c2c2"/><stop offset="0.96" stop-color="#c2c2c2"/><stop offset="0.9637" stop-color="#c2c2c2"/><stop offset="0.9674" stop-color="#c2c2c2"/><stop offset="0.971" stop-color="#c2c2c2"/><stop offset="0.9747" stop-color="#c2c2c2"/><stop offset="0.9783" stop-color="#bebebe"/><stop offset="0.982" stop-color="#bebebe"/><stop offset="0.9856" stop-color="#bababa"/><stop offset="0.9893" stop-color="#bababa"/><stop offset="0.9929" stop-color="#bababa"/><stop offset="0.9966" stop-color="#bababa"/><stop offset="1" stop-color="#b6b6b6"/></linearGradient><linearGradient id="br2" gradientUnits="userSpaceOnUse" x1="78.8" y1="0" x2="899.8" y2="0"><stop offset="0" stop-color="#8e8e8e"/><stop offset="0.0027" stop-color="#8e8e8e"/><stop offset="0.0082" stop-color="#a2a2a2"/><stop offset="0.0118" stop-color="#a2a2a2"/><stop offset="0.0179" stop-color="#c2c2c2"/><stop offset="0.0228" stop-color="#c2c2c2"/><stop offset="0.0289" stop-color="#dedede"/><stop offset="0.0337" stop-color="#dedede"/><stop offset="0.0404" stop-color="#dadada"/><stop offset="0.0471" stop-color="#d2d2d2"/><stop offset="0.0532" stop-color="#eaeaea"/><stop offset="0.0666" stop-color="#eaeaea"/><stop offset="0.0727" stop-color="#fafafa"/><stop offset="0.1032" stop-color="#fafafa"/><stop offset="0.1093" stop-color="#f2f2f2"/><stop offset="0.1251" stop-color="#f2f2f2"/><stop offset="0.1306" stop-color="#eaeaea"/><stop offset="0.1367" stop-color="#dedede"/><stop offset="0.1434" stop-color="#eeeeee"/><stop offset="0.1507" stop-color="#eeeeee"/><stop offset="0.1568" stop-color="#f2f2f2"/><stop offset="0.1787" stop-color="#f2f2f2"/><stop offset="0.1848" stop-color="#f2f2f2"/><stop offset="0.2006" stop-color="#f2f2f2"/><stop offset="0.2073" stop-color="#eaeaea"/><stop offset="0.214" stop-color="#f6f6f6"/><stop offset="0.2371" stop-color="#f6f6f6"/><stop offset="0.2432" stop-color="#f2f2f2"/><stop offset="0.2518" stop-color="#f2f2f2"/><stop offset="0.2579" stop-color="#fafafa"/><stop offset="0.2847" stop-color="#fafafa"/><stop offset="0.2907" stop-color="#f2f2f2"/><stop offset="0.2993" stop-color="#f2f2f2"/><stop offset="0.3054" stop-color="#fafafa"/><stop offset="0.3163" stop-color="#fafafa"/><stop offset="0.3224" stop-color="#f2f2f2"/><stop offset="0.3382" stop-color="#f2f2f2"/><stop offset="0.3443" stop-color="#fafafa"/><stop offset="0.3565" stop-color="#fafafa"/><stop offset="0.3626" stop-color="#eeeeee"/><stop offset="0.3857" stop-color="#eeeeee"/><stop offset="0.3918" stop-color="#f2f2f2"/><stop offset="0.3967" stop-color="#f2f2f2"/><stop offset="0.4028" stop-color="#eeeeee"/><stop offset="0.4156" stop-color="#eeeeee"/><stop offset="0.4192" stop-color="#eeeeee"/><stop offset="0.4229" stop-color="#eeeeee"/><stop offset="0.4266" stop-color="#f2f2f2"/><stop offset="0.4302" stop-color="#f2f2f2"/><stop offset="0.4339" stop-color="#eeeeee"/><stop offset="0.4375" stop-color="#eeeeee"/><stop offset="0.4412" stop-color="#eeeeee"/><stop offset="0.4448" stop-color="#eeeeee"/><stop offset="0.4485" stop-color="#eeeeee"/><stop offset="0.4521" stop-color="#eeeeee"/><stop offset="0.4558" stop-color="#eeeeee"/><stop offset="0.4594" stop-color="#eaeaea"/><stop offset="0.4631" stop-color="#eaeaea"/><stop offset="0.4667" stop-color="#eaeaea"/><stop offset="0.4704" stop-color="#eaeaea"/><stop offset="0.4741" stop-color="#eaeaea"/><stop offset="0.4777" stop-color="#eaeaea"/><stop offset="0.4814" stop-color="#eaeaea"/><stop offset="0.485" stop-color="#e6e6e6"/><stop offset="0.4887" stop-color="#e6e6e6"/><stop offset="0.4923" stop-color="#e6e6e6"/><stop offset="0.496" stop-color="#e2e2e2"/><stop offset="0.4996" stop-color="#e2e2e2"/><stop offset="0.5033" stop-color="#e2e2e2"/><stop offset="0.5069" stop-color="#e2e2e2"/><stop offset="0.5106" stop-color="#e6e6e6"/><stop offset="0.5143" stop-color="#e6e6e6"/><stop offset="0.5179" stop-color="#e6e6e6"/><stop offset="0.5216" stop-color="#e6e6e6"/><stop offset="0.5252" stop-color="#e2e2e2"/><stop offset="0.5289" stop-color="#dedede"/><stop offset="0.5325" stop-color="#dedede"/><stop offset="0.5362" stop-color="#dedede"/><stop offset="0.5398" stop-color="#dadada"/><stop offset="0.5435" stop-color="#dadada"/><stop offset="0.5471" stop-color="#dadada"/><stop offset="0.5508" stop-color="#dadada"/><stop offset="0.5544" stop-color="#dadada"/><stop offset="0.5581" stop-color="#dadada"/><stop offset="0.5618" stop-color="#dadada"/><stop offset="0.5654" stop-color="#dadada"/><stop offset="0.5691" stop-color="#dadada"/><stop offset="0.5727" stop-color="#dadada"/><stop offset="0.5764" stop-color="#dadada"/><stop offset="0.58" stop-color="#dadada"/><stop offset="0.5837" stop-color="#dadada"/><stop offset="0.5873" stop-color="#d6d6d6"/><stop offset="0.591" stop-color="#d6d6d6"/><stop offset="0.5946" stop-color="#d6d6d6"/><stop offset="0.5983" stop-color="#d6d6d6"/><stop offset="0.6019" stop-color="#d2d2d2"/><stop offset="0.6056" stop-color="#d2d2d2"/><stop offset="0.6093" stop-color="#d2d2d2"/><stop offset="0.6129" stop-color="#d6d6d6"/><stop offset="0.6166" stop-color="#d6d6d6"/><stop offset="0.6202" stop-color="#d6d6d6"/><stop offset="0.6239" stop-color="#d6d6d6"/><stop offset="0.6275" stop-color="#d6d6d6"/><stop offset="0.6312" stop-color="#d6d6d6"/><stop offset="0.6348" stop-color="#cecece"/><stop offset="0.6385" stop-color="#cecece"/><stop offset="0.6421" stop-color="#cacaca"/><stop offset="0.6458" stop-color="#cacaca"/><stop offset="0.6495" stop-color="#cacaca"/><stop offset="0.6531" stop-color="#cacaca"/><stop offset="0.6568" stop-color="#cacaca"/><stop offset="0.6604" stop-color="#cacaca"/><stop offset="0.6641" stop-color="#cacaca"/><stop offset="0.6677" stop-color="#cecece"/><stop offset="0.6714" stop-color="#cecece"/><stop offset="0.675" stop-color="#cecece"/><stop offset="0.6787" stop-color="#cecece"/><stop offset="0.6823" stop-color="#cacaca"/><stop offset="0.686" stop-color="#cacaca"/><stop offset="0.6896" stop-color="#c6c6c6"/><stop offset="0.6933" stop-color="#c6c6c6"/><stop offset="0.697" stop-color="#c2c2c2"/><stop offset="0.7006" stop-color="#c2c2c2"/><stop offset="0.7043" stop-color="#c2c2c2"/><stop offset="0.7079" stop-color="#c2c2c2"/><stop offset="0.7116" stop-color="#c2c2c2"/><stop offset="0.7152" stop-color="#c6c6c6"/><stop offset="0.7189" stop-color="#c6c6c6"/><stop offset="0.7225" stop-color="#c6c6c6"/><stop offset="0.7262" stop-color="#cacaca"/><stop offset="0.7298" stop-color="#cacaca"/><stop offset="0.7335" stop-color="#cacaca"/><stop offset="0.7371" stop-color="#c6c6c6"/><stop offset="0.7408" stop-color="#c6c6c6"/><stop offset="0.7445" stop-color="#c2c2c2"/><stop offset="0.7481" stop-color="#c2c2c2"/><stop offset="0.7518" stop-color="#bebebe"/><stop offset="0.7554" stop-color="#bebebe"/><stop offset="0.7591" stop-color="#bebebe"/><stop offset="0.7627" stop-color="#bebebe"/><stop offset="0.7664" stop-color="#bebebe"/><stop offset="0.77" stop-color="#bebebe"/><stop offset="0.7737" stop-color="#c2c2c2"/><stop offset="0.7773" stop-color="#c2c2c2"/><stop offset="0.781" stop-color="#c2c2c2"/><stop offset="0.7847" stop-color="#c6c6c6"/><stop offset="0.7883" stop-color="#c6c6c6"/><stop offset="0.792" stop-color="#c6c6c6"/><stop offset="0.7956" stop-color="#c6c6c6"/><stop offset="0.7993" stop-color="#c2c2c2"/><stop offset="0.8029" stop-color="#c2c2c2"/><stop offset="0.8066" stop-color="#c2c2c2"/><stop offset="0.8102" stop-color="#bebebe"/><stop offset="0.8139" stop-color="#bebebe"/><stop offset="0.8175" stop-color="#bababa"/><stop offset="0.8212" stop-color="#bababa"/><stop offset="0.8248" stop-color="#bababa"/><stop offset="0.8285" stop-color="#bababa"/><stop offset="0.8322" stop-color="#bababa"/><stop offset="0.8358" stop-color="#bababa"/><stop offset="0.8395" stop-color="#bababa"/><stop offset="0.8431" stop-color="#bababa"/><stop offset="0.8468" stop-color="#bebebe"/><stop offset="0.8504" stop-color="#bebebe"/><stop offset="0.8541" stop-color="#bebebe"/><stop offset="0.8577" stop-color="#bebebe"/><stop offset="0.8614" stop-color="#bebebe"/><stop offset="0.865" stop-color="#bebebe"/><stop offset="0.8687" stop-color="#bebebe"/><stop offset="0.8724" stop-color="#bebebe"/><stop offset="0.876" stop-color="#bababa"/><stop offset="0.8797" stop-color="#bababa"/><stop offset="0.8833" stop-color="#bababa"/><stop offset="0.887" stop-color="#b6b6b6"/><stop offset="0.8906" stop-color="#b6b6b6"/><stop offset="0.8943" stop-color="#b2b2b2"/><stop offset="0.8979" stop-color="#b2b2b2"/><stop offset="0.9016" stop-color="#b2b2b2"/><stop offset="0.9052" stop-color="#b2b2b2"/><stop offset="0.9089" stop-color="#b2b2b2"/><stop offset="0.9125" stop-color="#b2b2b2"/><stop offset="0.9162" stop-color="#b2b2b2"/><stop offset="0.9199" stop-color="#b2b2b2"/><stop offset="0.9235" stop-color="#b2b2b2"/><stop offset="0.9272" stop-color="#b6b6b6"/><stop offset="0.9308" stop-color="#b6b6b6"/><stop offset="0.9345" stop-color="#b6b6b6"/><stop offset="0.9381" stop-color="#b6b6b6"/><stop offset="0.9418" stop-color="#b6b6b6"/><stop offset="0.9454" stop-color="#b6b6b6"/><stop offset="0.9491" stop-color="#b6b6b6"/><stop offset="0.9527" stop-color="#b6b6b6"/><stop offset="0.9564" stop-color="#b6b6b6"/><stop offset="0.96" stop-color="#b6b6b6"/><stop offset="0.9637" stop-color="#b2b2b2"/><stop offset="0.9674" stop-color="#b2b2b2"/><stop offset="0.971" stop-color="#aeaeae"/><stop offset="0.9747" stop-color="#aeaeae"/><stop offset="0.9783" stop-color="#aaaaaa"/><stop offset="0.982" stop-color="#aaaaaa"/><stop offset="0.9856" stop-color="#aaaaaa"/><stop offset="0.9893" stop-color="#a6a6a6"/><stop offset="0.9929" stop-color="#a6a6a6"/><stop offset="0.9966" stop-color="#a6a6a6"/><stop offset="1" stop-color="#a6a6a6"/></linearGradient><linearGradient id="br3" gradientUnits="userSpaceOnUse" x1="78.8" y1="0" x2="899.8" y2="0"><stop offset="0" stop-color="#828282"/><stop offset="0.0039" stop-color="#828282"/><stop offset="0.0112" stop-color="#9e9e9e"/><stop offset="0.0173" stop-color="#bababa"/><stop offset="0.0228" stop-color="#d2d2d2"/><stop offset="0.041" stop-color="#d2d2d2"/><stop offset="0.0471" stop-color="#e2e2e2"/><stop offset="0.0557" stop-color="#e2e2e2"/><stop offset="0.0618" stop-color="#f2f2f2"/><stop offset="0.0703" stop-color="#f2f2f2"/><stop offset="0.0764" stop-color="#eaeaea"/><stop offset="0.0886" stop-color="#eaeaea"/><stop offset="0.0946" stop-color="#f2f2f2"/><stop offset="0.1178" stop-color="#f2f2f2"/><stop offset="0.1239" stop-color="#fafafa"/><stop offset="0.1434" stop-color="#fafafa"/><stop offset="0.1495" stop-color="#f2f2f2"/><stop offset="0.1531" stop-color="#f2f2f2"/><stop offset="0.1592" stop-color="#eaeaea"/><stop offset="0.1714" stop-color="#eaeaea"/><stop offset="0.1775" stop-color="#f2f2f2"/><stop offset="0.1823" stop-color="#f2f2f2"/><stop offset="0.1884" stop-color="#fafafa"/><stop offset="0.2006" stop-color="#fafafa"/><stop offset="0.2067" stop-color="#f2f2f2"/><stop offset="0.2262" stop-color="#f2f2f2"/><stop offset="0.2323" stop-color="#fafafa"/><stop offset="0.2518" stop-color="#fafafa"/><stop offset="0.2579" stop-color="#eaeaea"/><stop offset="0.2847" stop-color="#eaeaea"/><stop offset="0.2907" stop-color="#eeeeee"/><stop offset="0.2993" stop-color="#eeeeee"/><stop offset="0.3054" stop-color="#eeeeee"/><stop offset="0.3127" stop-color="#eeeeee"/><stop offset="0.3188" stop-color="#eaeaea"/><stop offset="0.3236" stop-color="#eaeaea"/><stop offset="0.3297" stop-color="#e6e6e6"/><stop offset="0.3346" stop-color="#e6e6e6"/><stop offset="0.3407" stop-color="#f6f6f6"/><stop offset="0.3529" stop-color="#f6f6f6"/><stop offset="0.359" stop-color="#eaeaea"/><stop offset="0.3711" stop-color="#eaeaea"/><stop offset="0.3772" stop-color="#eeeeee"/><stop offset="0.3894" stop-color="#eeeeee"/><stop offset="0.3955" stop-color="#e6e6e6"/><stop offset="0.4113" stop-color="#e6e6e6"/><stop offset="0.4156" stop-color="#eaeaea"/><stop offset="0.4192" stop-color="#eaeaea"/><stop offset="0.4229" stop-color="#eeeeee"/><stop offset="0.4266" stop-color="#eeeeee"/><stop offset="0.4302" stop-color="#eeeeee"/><stop offset="0.4339" stop-color="#eeeeee"/><stop offset="0.4375" stop-color="#eeeeee"/><stop offset="0.4412" stop-color="#eaeaea"/><stop offset="0.4448" stop-color="#e6e6e6"/><stop offset="0.4485" stop-color="#e6e6e6"/><stop offset="0.4521" stop-color="#e2e2e2"/><stop offset="0.4558" stop-color="#e2e2e2"/><stop offset="0.4594" stop-color="#e2e2e2"/><stop offset="0.4631" stop-color="#dedede"/><stop offset="0.4667" stop-color="#dedede"/><stop offset="0.4704" stop-color="#dedede"/><stop offset="0.4741" stop-color="#dedede"/><stop offset="0.4777" stop-color="#dedede"/><stop offset="0.4814" stop-color="#dedede"/><stop offset="0.485" stop-color="#dedede"/><stop offset="0.4887" stop-color="#e2e2e2"/><stop offset="0.4923" stop-color="#dedede"/><stop offset="0.496" stop-color="#dedede"/><stop offset="0.4996" stop-color="#dedede"/><stop offset="0.5033" stop-color="#dadada"/><stop offset="0.5069" stop-color="#dadada"/><stop offset="0.5106" stop-color="#dadada"/><stop offset="0.5143" stop-color="#dadada"/><stop offset="0.5179" stop-color="#dadada"/><stop offset="0.5216" stop-color="#d6d6d6"/><stop offset="0.5252" stop-color="#cecece"/><stop offset="0.5289" stop-color="#cecece"/><stop offset="0.5325" stop-color="#cecece"/><stop offset="0.5362" stop-color="#cecece"/><stop offset="0.5398" stop-color="#d2d2d2"/><stop offset="0.5435" stop-color="#d2d2d2"/><stop offset="0.5471" stop-color="#d2d2d2"/><stop offset="0.5508" stop-color="#d2d2d2"/><stop offset="0.5544" stop-color="#d2d2d2"/><stop offset="0.5581" stop-color="#d2d2d2"/><stop offset="0.5618" stop-color="#cecece"/><stop offset="0.5654" stop-color="#cecece"/><stop offset="0.5691" stop-color="#cecece"/><stop offset="0.5727" stop-color="#cecece"/><stop offset="0.5764" stop-color="#cecece"/><stop offset="0.58" stop-color="#cacaca"/><stop offset="0.5837" stop-color="#cacaca"/><stop offset="0.5873" stop-color="#c6c6c6"/><stop offset="0.591" stop-color="#c2c2c2"/><stop offset="0.5946" stop-color="#c2c2c2"/><stop offset="0.5983" stop-color="#c2c2c2"/><stop offset="0.6019" stop-color="#c6c6c6"/><stop offset="0.6056" stop-color="#c6c6c6"/><stop offset="0.6093" stop-color="#c6c6c6"/><stop offset="0.6129" stop-color="#cacaca"/><stop offset="0.6166" stop-color="#cacaca"/><stop offset="0.6202" stop-color="#cacaca"/><stop offset="0.6239" stop-color="#cacaca"/><stop offset="0.6275" stop-color="#c6c6c6"/><stop offset="0.6312" stop-color="#c2c2c2"/><stop offset="0.6348" stop-color="#c2c2c2"/><stop offset="0.6385" stop-color="#bebebe"/><stop offset="0.6421" stop-color="#bebebe"/><stop offset="0.6458" stop-color="#bababa"/><stop offset="0.6495" stop-color="#bababa"/><stop offset="0.6531" stop-color="#bababa"/><stop offset="0.6568" stop-color="#bababa"/><stop offset="0.6604" stop-color="#bababa"/><stop offset="0.6641" stop-color="#bababa"/><stop offset="0.6677" stop-color="#bababa"/><stop offset="0.6714" stop-color="#bebebe"/><stop offset="0.675" stop-color="#bebebe"/><stop offset="0.6787" stop-color="#bebebe"/><stop offset="0.6823" stop-color="#bebebe"/><stop offset="0.686" stop-color="#bebebe"/><stop offset="0.6896" stop-color="#bebebe"/><stop offset="0.6933" stop-color="#bababa"/><stop offset="0.697" stop-color="#bababa"/><stop offset="0.7006" stop-color="#b6b6b6"/><stop offset="0.7043" stop-color="#b6b6b6"/><stop offset="0.7079" stop-color="#b6b6b6"/><stop offset="0.7116" stop-color="#b2b2b2"/><stop offset="0.7152" stop-color="#b2b2b2"/><stop offset="0.7189" stop-color="#b2b2b2"/><stop offset="0.7225" stop-color="#b2b2b2"/><stop offset="0.7262" stop-color="#b2b2b2"/><stop offset="0.7298" stop-color="#b2b2b2"/><stop offset="0.7335" stop-color="#b6b6b6"/><stop offset="0.7371" stop-color="#b6b6b6"/><stop offset="0.7408" stop-color="#b6b6b6"/><stop offset="0.7445" stop-color="#bababa"/><stop offset="0.7481" stop-color="#bababa"/><stop offset="0.7518" stop-color="#bababa"/><stop offset="0.7554" stop-color="#b6b6b6"/><stop offset="0.7591" stop-color="#b6b6b6"/><stop offset="0.7627" stop-color="#b6b6b6"/><stop offset="0.7664" stop-color="#b6b6b6"/><stop offset="0.77" stop-color="#b2b2b2"/><stop offset="0.7737" stop-color="#b2b2b2"/><stop offset="0.7773" stop-color="#aeaeae"/><stop offset="0.781" stop-color="#aeaeae"/><stop offset="0.7847" stop-color="#aeaeae"/><stop offset="0.7883" stop-color="#aeaeae"/><stop offset="0.792" stop-color="#aeaeae"/><stop offset="0.7956" stop-color="#aeaeae"/><stop offset="0.7993" stop-color="#aeaeae"/><stop offset="0.8029" stop-color="#aeaeae"/><stop offset="0.8066" stop-color="#aeaeae"/><stop offset="0.8102" stop-color="#aeaeae"/><stop offset="0.8139" stop-color="#b2b2b2"/><stop offset="0.8175" stop-color="#b2b2b2"/><stop offset="0.8212" stop-color="#b2b2b2"/><stop offset="0.8248" stop-color="#b2b2b2"/><stop offset="0.8285" stop-color="#b2b2b2"/><stop offset="0.8322" stop-color="#b2b2b2"/><stop offset="0.8358" stop-color="#b2b2b2"/><stop offset="0.8395" stop-color="#b2b2b2"/><stop offset="0.8431" stop-color="#b2b2b2"/><stop offset="0.8468" stop-color="#aeaeae"/><stop offset="0.8504" stop-color="#aeaeae"/><stop offset="0.8541" stop-color="#aeaeae"/><stop offset="0.8577" stop-color="#aaaaaa"/><stop offset="0.8614" stop-color="#aaaaaa"/><stop offset="0.865" stop-color="#aaaaaa"/><stop offset="0.8687" stop-color="#a6a6a6"/><stop offset="0.8724" stop-color="#a6a6a6"/><stop offset="0.876" stop-color="#a6a6a6"/><stop offset="0.8797" stop-color="#a6a6a6"/><stop offset="0.8833" stop-color="#a6a6a6"/><stop offset="0.887" stop-color="#a6a6a6"/><stop offset="0.8906" stop-color="#a6a6a6"/><stop offset="0.8943" stop-color="#aaaaaa"/><stop offset="0.8979" stop-color="#aaaaaa"/><stop offset="0.9016" stop-color="#aaaaaa"/><stop offset="0.9052" stop-color="#aaaaaa"/><stop offset="0.9089" stop-color="#aeaeae"/><stop offset="0.9125" stop-color="#aeaeae"/><stop offset="0.9162" stop-color="#aeaeae"/><stop offset="0.9199" stop-color="#aeaeae"/><stop offset="0.9235" stop-color="#aeaeae"/><stop offset="0.9272" stop-color="#aeaeae"/><stop offset="0.9308" stop-color="#aeaeae"/><stop offset="0.9345" stop-color="#aeaeae"/><stop offset="0.9381" stop-color="#aaaaaa"/><stop offset="0.9418" stop-color="#aaaaaa"/><stop offset="0.9454" stop-color="#aaaaaa"/><stop offset="0.9491" stop-color="#a6a6a6"/><stop offset="0.9527" stop-color="#a6a6a6"/><stop offset="0.9564" stop-color="#a6a6a6"/><stop offset="0.96" stop-color="#a2a2a2"/><stop offset="0.9637" stop-color="#a2a2a2"/><stop offset="0.9674" stop-color="#9e9e9e"/><stop offset="0.971" stop-color="#9e9e9e"/><stop offset="0.9747" stop-color="#9e9e9e"/><stop offset="0.9783" stop-color="#9e9e9e"/><stop offset="0.982" stop-color="#9a9a9a"/><stop offset="0.9856" stop-color="#9a9a9a"/><stop offset="0.9893" stop-color="#9a9a9a"/><stop offset="0.9929" stop-color="#9a9a9a"/><stop offset="0.9966" stop-color="#9a9a9a"/><stop offset="1" stop-color="#9a9a9a"/></linearGradient><linearGradient id="br4" gradientUnits="userSpaceOnUse" x1="78.8" y1="0" x2="899.8" y2="0"><stop offset="0" stop-color="#aeaeae"/><stop offset="0.0039" stop-color="#aeaeae"/><stop offset="0.0112" stop-color="#9e9e9e"/><stop offset="0.0179" stop-color="#aeaeae"/><stop offset="0.0228" stop-color="#aeaeae"/><stop offset="0.0289" stop-color="#c6c6c6"/><stop offset="0.0337" stop-color="#c6c6c6"/><stop offset="0.0398" stop-color="#eaeaea"/><stop offset="0.0593" stop-color="#eaeaea"/><stop offset="0.066" stop-color="#dedede"/><stop offset="0.0727" stop-color="#f2f2f2"/><stop offset="0.0886" stop-color="#f2f2f2"/><stop offset="0.0946" stop-color="#eaeaea"/><stop offset="0.1178" stop-color="#eaeaea"/><stop offset="0.1239" stop-color="#f2f2f2"/><stop offset="0.1434" stop-color="#f2f2f2"/><stop offset="0.1495" stop-color="#f2f2f2"/><stop offset="0.1677" stop-color="#f2f2f2"/><stop offset="0.1738" stop-color="#eeeeee"/><stop offset="0.186" stop-color="#eeeeee"/><stop offset="0.1921" stop-color="#f2f2f2"/><stop offset="0.2152" stop-color="#f2f2f2"/><stop offset="0.2213" stop-color="#fefefe"/><stop offset="0.2445" stop-color="#fefefe"/><stop offset="0.2505" stop-color="#f2f2f2"/><stop offset="0.2737" stop-color="#f2f2f2"/><stop offset="0.2798" stop-color="#eaeaea"/><stop offset="0.3127" stop-color="#eaeaea"/><stop offset="0.3188" stop-color="#fafafa"/><stop offset="0.3309" stop-color="#fafafa"/><stop offset="0.337" stop-color="#eaeaea"/><stop offset="0.3492" stop-color="#eaeaea"/><stop offset="0.3553" stop-color="#f2f2f2"/><stop offset="0.3638" stop-color="#f2f2f2"/><stop offset="0.3699" stop-color="#e6e6e6"/><stop offset="0.3857" stop-color="#e6e6e6"/><stop offset="0.3918" stop-color="#e2e2e2"/><stop offset="0.4156" stop-color="#dedede"/><stop offset="0.4192" stop-color="#dedede"/><stop offset="0.4229" stop-color="#dadada"/><stop offset="0.4266" stop-color="#dadada"/><stop offset="0.4302" stop-color="#dadada"/><stop offset="0.4339" stop-color="#dadada"/><stop offset="0.4375" stop-color="#dadada"/><stop offset="0.4412" stop-color="#dadada"/><stop offset="0.4448" stop-color="#d6d6d6"/><stop offset="0.4485" stop-color="#d6d6d6"/><stop offset="0.4521" stop-color="#dadada"/><stop offset="0.4558" stop-color="#dadada"/><stop offset="0.4594" stop-color="#dadada"/><stop offset="0.4631" stop-color="#dadada"/><stop offset="0.4667" stop-color="#dedede"/><stop offset="0.4704" stop-color="#dadada"/><stop offset="0.4741" stop-color="#d6d6d6"/><stop offset="0.4777" stop-color="#d2d2d2"/><stop offset="0.4814" stop-color="#d2d2d2"/><stop offset="0.485" stop-color="#d2d2d2"/><stop offset="0.4887" stop-color="#cecece"/><stop offset="0.4923" stop-color="#cecece"/><stop offset="0.496" stop-color="#cacaca"/><stop offset="0.4996" stop-color="#cacaca"/><stop offset="0.5033" stop-color="#c6c6c6"/><stop offset="0.5069" stop-color="#c6c6c6"/><stop offset="0.5106" stop-color="#c6c6c6"/><stop offset="0.5143" stop-color="#c6c6c6"/><stop offset="0.5179" stop-color="#c6c6c6"/><stop offset="0.5216" stop-color="#c6c6c6"/><stop offset="0.5252" stop-color="#c2c2c2"/><stop offset="0.5289" stop-color="#c6c6c6"/><stop offset="0.5325" stop-color="#c6c6c6"/><stop offset="0.5362" stop-color="#c6c6c6"/><stop offset="0.5398" stop-color="#cacaca"/><stop offset="0.5435" stop-color="#cacaca"/><stop offset="0.5471" stop-color="#cacaca"/><stop offset="0.5508" stop-color="#cacaca"/><stop offset="0.5544" stop-color="#c6c6c6"/><stop offset="0.5581" stop-color="#c6c6c6"/><stop offset="0.5618" stop-color="#bebebe"/><stop offset="0.5654" stop-color="#bebebe"/><stop offset="0.5691" stop-color="#bababa"/><stop offset="0.5727" stop-color="#bababa"/><stop offset="0.5764" stop-color="#b6b6b6"/><stop offset="0.58" stop-color="#b6b6b6"/><stop offset="0.5837" stop-color="#b6b6b6"/><stop offset="0.5873" stop-color="#b6b6b6"/><stop offset="0.591" stop-color="#b6b6b6"/><stop offset="0.5946" stop-color="#b6b6b6"/><stop offset="0.5983" stop-color="#b6b6b6"/><stop offset="0.6019" stop-color="#b6b6b6"/><stop offset="0.6056" stop-color="#bababa"/><stop offset="0.6093" stop-color="#bababa"/><stop offset="0.6129" stop-color="#bebebe"/><stop offset="0.6166" stop-color="#bebebe"/><stop offset="0.6202" stop-color="#bebebe"/><stop offset="0.6239" stop-color="#bebebe"/><stop offset="0.6275" stop-color="#bebebe"/><stop offset="0.6312" stop-color="#bebebe"/><stop offset="0.6348" stop-color="#b6b6b6"/><stop offset="0.6385" stop-color="#b6b6b6"/><stop offset="0.6421" stop-color="#b2b2b2"/><stop offset="0.6458" stop-color="#aeaeae"/><stop offset="0.6495" stop-color="#aeaeae"/><stop offset="0.6531" stop-color="#aaaaaa"/><stop offset="0.6568" stop-color="#aaaaaa"/><stop offset="0.6604" stop-color="#a6a6a6"/><stop offset="0.6641" stop-color="#a6a6a6"/><stop offset="0.6677" stop-color="#a6a6a6"/><stop offset="0.6714" stop-color="#a6a6a6"/><stop offset="0.675" stop-color="#aaaaaa"/><stop offset="0.6787" stop-color="#aaaaaa"/><stop offset="0.6823" stop-color="#aeaeae"/><stop offset="0.686" stop-color="#aeaeae"/><stop offset="0.6896" stop-color="#b2b2b2"/><stop offset="0.6933" stop-color="#b2b2b2"/><stop offset="0.697" stop-color="#b2b2b2"/><stop offset="0.7006" stop-color="#b2b2b2"/><stop offset="0.7043" stop-color="#b2b2b2"/><stop offset="0.7079" stop-color="#b2b2b2"/><stop offset="0.7116" stop-color="#b2b2b2"/><stop offset="0.7152" stop-color="#aeaeae"/><stop offset="0.7189" stop-color="#aaaaaa"/><stop offset="0.7225" stop-color="#aaaaaa"/><stop offset="0.7262" stop-color="#a6a6a6"/><stop offset="0.7298" stop-color="#a6a6a6"/><stop offset="0.7335" stop-color="#a2a2a2"/><stop offset="0.7371" stop-color="#a2a2a2"/><stop offset="0.7408" stop-color="#9e9e9e"/><stop offset="0.7445" stop-color="#9e9e9e"/><stop offset="0.7481" stop-color="#9e9e9e"/><stop offset="0.7518" stop-color="#9e9e9e"/><stop offset="0.7554" stop-color="#a2a2a2"/><stop offset="0.7591" stop-color="#a2a2a2"/><stop offset="0.7627" stop-color="#a6a6a6"/><stop offset="0.7664" stop-color="#a6a6a6"/><stop offset="0.77" stop-color="#aaaaaa"/><stop offset="0.7737" stop-color="#aaaaaa"/><stop offset="0.7773" stop-color="#aeaeae"/><stop offset="0.781" stop-color="#aeaeae"/><stop offset="0.7847" stop-color="#aeaeae"/><stop offset="0.7883" stop-color="#aeaeae"/><stop offset="0.792" stop-color="#aeaeae"/><stop offset="0.7956" stop-color="#aeaeae"/><stop offset="0.7993" stop-color="#aeaeae"/><stop offset="0.8029" stop-color="#aaaaaa"/><stop offset="0.8066" stop-color="#aaaaaa"/><stop offset="0.8102" stop-color="#a6a6a6"/><stop offset="0.8139" stop-color="#a6a6a6"/><stop offset="0.8175" stop-color="#a2a2a2"/><stop offset="0.8212" stop-color="#9e9e9e"/><stop offset="0.8248" stop-color="#9e9e9e"/><stop offset="0.8285" stop-color="#9a9a9a"/><stop offset="0.8322" stop-color="#969696"/><stop offset="0.8358" stop-color="#969696"/><stop offset="0.8395" stop-color="#969696"/><stop offset="0.8431" stop-color="#929292"/><stop offset="0.8468" stop-color="#929292"/><stop offset="0.8504" stop-color="#929292"/><stop offset="0.8541" stop-color="#929292"/><stop offset="0.8577" stop-color="#969696"/><stop offset="0.8614" stop-color="#969696"/><stop offset="0.865" stop-color="#969696"/><stop offset="0.8687" stop-color="#9a9a9a"/><stop offset="0.8724" stop-color="#9a9a9a"/><stop offset="0.876" stop-color="#9a9a9a"/><stop offset="0.8797" stop-color="#9e9e9e"/><stop offset="0.8833" stop-color="#9e9e9e"/><stop offset="0.887" stop-color="#9e9e9e"/><stop offset="0.8906" stop-color="#a2a2a2"/><stop offset="0.8943" stop-color="#a2a2a2"/><stop offset="0.8979" stop-color="#a2a2a2"/><stop offset="0.9016" stop-color="#a2a2a2"/><stop offset="0.9052" stop-color="#a2a2a2"/><stop offset="0.9089" stop-color="#a2a2a2"/><stop offset="0.9125" stop-color="#9e9e9e"/><stop offset="0.9162" stop-color="#9e9e9e"/><stop offset="0.9199" stop-color="#9e9e9e"/><stop offset="0.9235" stop-color="#9a9a9a"/><stop offset="0.9272" stop-color="#9a9a9a"/><stop offset="0.9308" stop-color="#969696"/><stop offset="0.9345" stop-color="#969696"/><stop offset="0.9381" stop-color="#929292"/><stop offset="0.9418" stop-color="#8e8e8e"/><stop offset="0.9454" stop-color="#8e8e8e"/><stop offset="0.9491" stop-color="#8a8a8a"/><stop offset="0.9527" stop-color="#8a8a8a"/><stop offset="0.9564" stop-color="#868686"/><stop offset="0.96" stop-color="#868686"/><stop offset="0.9637" stop-color="#868686"/><stop offset="0.9674" stop-color="#868686"/><stop offset="0.971" stop-color="#868686"/><stop offset="0.9747" stop-color="#868686"/><stop offset="0.9783" stop-color="#868686"/><stop offset="0.982" stop-color="#868686"/><stop offset="0.9856" stop-color="#868686"/><stop offset="0.9893" stop-color="#868686"/><stop offset="0.9929" stop-color="#8a8a8a"/><stop offset="0.9966" stop-color="#8a8a8a"/><stop offset="1" stop-color="#8a8a8a"/></linearGradient><clipPath id="bc"><rect x="78.8" y="621" width="821" height="405"/></clipPath></defs>
<g clip-path="url(#bc)" filter="url(#jetb)">
<rect x="77" y="611" width="824" height="11" fill="url(#br0)"/>
<rect x="77" y="1025" width="824" height="11" fill="url(#br4)"/>
<rect x="77" y="621" width="824" height="101" fill="url(#br0)"/>
<rect x="77" y="621" width="824" height="101" fill="url(#br1)" mask="url(#vm)"/>
<rect x="77" y="722" width="824" height="102" fill="url(#br1)"/>
<rect x="77" y="722" width="824" height="102" fill="url(#br2)" mask="url(#vm)"/>
<rect x="77" y="824" width="824" height="101" fill="url(#br2)"/>
<rect x="77" y="824" width="824" height="101" fill="url(#br3)" mask="url(#vm)"/>
<rect x="77" y="925" width="824" height="101" fill="url(#br3)"/>
<rect x="77" y="925" width="824" height="101" fill="url(#br4)" mask="url(#vm)"/>
</g>
<g filter="url(#jet)"><rect x="926" y="621" width="16" height="405" fill="url(#cbg)"/></g>
<rect x="926" y="621" width="1" height="405" fill="#262626" opacity="0.75"/>
<rect x="941.3" y="621" width="0.7" height="405" fill="#262626" opacity="0.45"/>
<rect x="938" y="681.25" width="4" height="1" fill="#262626" opacity="0.8"/>
<rect x="938" y="742" width="4" height="1" fill="#262626" opacity="0.8"/>
<rect x="938" y="802.75" width="4" height="1" fill="#262626" opacity="0.8"/>
<rect x="938" y="863.5" width="4" height="1" fill="#262626" opacity="0.8"/>
<rect x="938" y="924.25" width="4" height="1" fill="#262626" opacity="0.8"/>
<rect x="938" y="985" width="4" height="1" fill="#262626" opacity="0.8"/>
<g opacity="0.999"><text x="501" y="602" text-anchor="middle" style="font-size:49px;fill:#000">(b)</text>
<text x="78.3" y="1061.6" text-anchor="middle" class="t">0.2</text>
<text x="394.0692" y="1061.6" text-anchor="middle" class="t">0.7</text>
<text x="709.8385" y="1061.6" text-anchor="middle" class="t">1.2</text>
<text x="899.3" y="1061.6" text-anchor="middle" class="t">1.5</text>
<text x="490.5" y="1094.8" text-anchor="middle" style="font-size:31.2px">Wavelength (<tspan font-style="italic" font-weight="normal" dx="1">μ</tspan><tspan dx="1">m)</tspan></text>
<text x="71" y="1036.9" text-anchor="end" class="t">4</text>
<text x="71" y="935.65" text-anchor="end" class="t">5</text>
<text x="71" y="834.4" text-anchor="end" class="t">6</text>
<text x="71" y="733.15" text-anchor="end" class="t">7</text>
<text x="71" y="631.9" text-anchor="end" class="t">8</text>
<text x="950.5" y="631.9" text-anchor="start" class="t">1</text>
<text x="950.5" y="692.65" text-anchor="start" class="t">0.85</text>
<text x="950.5" y="753.4" text-anchor="start" class="t">0.7</text>
<text x="950.5" y="814.15" text-anchor="start" class="t">0.55</text>
<text x="950.5" y="874.9" text-anchor="start" class="t">0.4</text>
<text x="950.5" y="935.65" text-anchor="start" class="t">0.25</text>
<text x="950.5" y="996.4" text-anchor="start" class="t">0.1</text>
<text transform="translate(49 823.2) rotate(-90)" text-anchor="middle" style="font-size:31.3px">Substrate thickness (<tspan font-style="italic" font-weight="normal" dx="1">μ</tspan><tspan dx="1">m)</tspan></text></g>
<!-- panel c -->
<defs><linearGradient id="cr0" gradientUnits="userSpaceOnUse" x1="78.8" y1="0" x2="899.8" y2="0"><stop offset="0" stop-color="#eaeaea"/><stop offset="0.0033" stop-color="#eaeaea"/><stop offset="0.0106" stop-color="#eaeaea"/><stop offset="0.0167" stop-color="#e6e6e6"/><stop offset="0.0276" stop-color="#e6e6e6"/><stop offset="0.0337" stop-color="#eeeeee"/><stop offset="0.0471" stop-color="#eeeeee"/><stop offset="0.0532" stop-color="#eaeaea"/><stop offset="0.0618" stop-color="#eaeaea"/><stop offset="0.0678" stop-color="#eeeeee"/><stop offset="0.0703" stop-color="#eeeeee"/><stop offset="0.0764" stop-color="#dedede"/><stop offset="0.0788" stop-color="#dedede"/><stop offset="0.0849" stop-color="#eeeeee"/><stop offset="0.1178" stop-color="#eeeeee"/><stop offset="0.1239" stop-color="#fafafa"/><stop offset="0.1702" stop-color="#fafafa"/><stop offset="0.1762" stop-color="#f2f2f2"/><stop offset="0.2238" stop-color="#f2f2f2"/><stop offset="0.2298" stop-color="#eeeeee"/><stop offset="0.2603" stop-color="#eeeeee"/><stop offset="0.2664" stop-color="#eeeeee"/><stop offset="0.3151" stop-color="#eeeeee"/><stop offset="0.3212" stop-color="#eeeeee"/><stop offset="0.4521" stop-color="#eeeeee"/><stop offset="0.4558" stop-color="#eeeeee"/><stop offset="0.4594" stop-color="#eeeeee"/><stop offset="0.4631" stop-color="#eeeeee"/><stop offset="0.4667" stop-color="#eeeeee"/><stop offset="0.4704" stop-color="#eeeeee"/><stop offset="0.4741" stop-color="#eeeeee"/><stop offset="0.4777" stop-color="#eeeeee"/><stop offset="0.4814" stop-color="#eeeeee"/><stop offset="0.485" stop-color="#eeeeee"/><stop offset="0.4887" stop-color="#eaeaea"/><stop offset="0.4923" stop-color="#e6e6e6"/><stop offset="0.496" stop-color="#e6e6e6"/><stop offset="0.4996" stop-color="#e6e6e6"/><stop offset="0.5033" stop-color="#e6e6e6"/><stop offset="0.5069" stop-color="#e6e6e6"/><stop offset="0.5106" stop-color="#e6e6e6"/><stop offset="0.5143" stop-color="#e6e6e6"/><stop offset="0.5179" stop-color="#e6e6e6"/><stop offset="0.5216" stop-color="#e6e6e6"/><stop offset="0.5252" stop-color="#e6e6e6"/><stop offset="0.5289" stop-color="#e6e6e6"/><stop offset="0.5325" stop-color="#e6e6e6"/><stop offset="0.5362" stop-color="#e6e6e6"/><stop offset="0.5398" stop-color="#e2e2e2"/><stop offset="0.5435" stop-color="#e2e2e2"/><stop offset="0.5471" stop-color="#e2e2e2"/><stop offset="0.5508" stop-color="#e2e2e2"/><stop offset="0.5544" stop-color="#e2e2e2"/><stop offset="0.5581" stop-color="#e2e2e2"/><stop offset="0.5618" stop-color="#e2e2e2"/><stop offset="0.5654" stop-color="#e2e2e2"/><stop offset="0.5691" stop-color="#e2e2e2"/><stop offset="0.5727" stop-color="#e2e2e2"/><stop offset="0.5764" stop-color="#e2e2e2"/><stop offset="0.58" stop-color="#e2e2e2"/><stop offset="0.5837" stop-color="#e2e2e2"/><stop offset="0.5873" stop-color="#e2e2e2"/><stop offset="0.591" stop-color="#dedede"/><stop offset="0.5946" stop-color="#dedede"/><stop offset="0.5983" stop-color="#dedede"/><stop offset="0.6019" stop-color="#dedede"/><stop offset="0.6056" stop-color="#dedede"/><stop offset="0.6093" stop-color="#dedede"/><stop offset="0.6129" stop-color="#dedede"/><stop offset="0.6166" stop-color="#dedede"/><stop offset="0.6202" stop-color="#dedede"/><stop offset="0.6239" stop-color="#dedede"/><stop offset="0.6275" stop-color="#dedede"/><stop offset="0.6312" stop-color="#dedede"/><stop offset="0.6348" stop-color="#dadada"/><stop offset="0.6385" stop-color="#dadada"/><stop offset="0.6421" stop-color="#dadada"/><stop offset="0.6458" stop-color="#dadada"/><stop offset="0.6495" stop-color="#dadada"/><stop offset="0.6531" stop-color="#dadada"/><stop offset="0.6568" stop-color="#dadada"/><stop offset="0.6604" stop-color="#d6d6d6"/><stop offset="0.6641" stop-color="#d6d6d6"/><stop offset="0.6677" stop-color="#d6d6d6"/><stop offset="0.6714" stop-color="#d6d6d6"/><stop offset="0.675" stop-color="#d6d6d6"/><stop offset="0.6787" stop-color="#d6d6d6"/><stop offset="0.6823" stop-color="#d6d6d6"/><stop offset="0.686" stop-color="#d6d6d6"/><stop offset="0.6896" stop-color="#d6d6d6"/><stop offset="0.6933" stop-color="#d6d6d6"/><stop offset="0.697" stop-color="#d6d6d6"/><stop offset="0.7006" stop-color="#d2d2d2"/><stop offset="0.7043" stop-color="#d2d2d2"/><stop offset="0.7079" stop-color="#d2d2d2"/><stop offset="0.7116" stop-color="#d2d2d2"/><stop offset="0.7152" stop-color="#d2d2d2"/><stop offset="0.7189" stop-color="#d2d2d2"/><stop offset="0.7225" stop-color="#d2d2d2"/><stop offset="0.7262" stop-color="#d2d2d2"/><stop offset="0.7298" stop-color="#d2d2d2"/><stop offset="0.7335" stop-color="#d2d2d2"/><stop offset="0.7371" stop-color="#d2d2d2"/><stop offset="0.7408" stop-color="#cecece"/><stop offset="0.7445" stop-color="#cecece"/><stop offset="0.7481" stop-color="#cecece"/><stop offset="0.7518" stop-color="#cacaca"/><stop offset="0.7554" stop-color="#cacaca"/><stop offset="0.7591" stop-color="#cacaca"/><stop offset="0.7627" stop-color="#cecece"/><stop offset="0.7664" stop-color="#cecece"/><stop offset="0.77" stop-color="#cecece"/><stop offset="0.7737" stop-color="#cecece"/><stop offset="0.7773" stop-color="#cecece"/><stop offset="0.781" stop-color="#cecece"/><stop offset="0.7847" stop-color="#cecece"/><stop offset="0.7883" stop-color="#cacaca"/><stop offset="0.792" stop-color="#cacaca"/><stop offset="0.7956" stop-color="#cacaca"/><stop offset="0.7993" stop-color="#c6c6c6"/><stop offset="0.8029" stop-color="#c6c6c6"/><stop offset="0.8066" stop-color="#c6c6c6"/><stop offset="0.8102" stop-color="#cacaca"/><stop offset="0.8139" stop-color="#cacaca"/><stop offset="0.8175" stop-color="#cacaca"/><stop offset="0.8212" stop-color="#cacaca"/><stop offset="0.8248" stop-color="#cacaca"/><stop offset="0.8285" stop-color="#cacaca"/><stop offset="0.8322" stop-color="#cacaca"/><stop offset="0.8358" stop-color="#cacaca"/><stop offset="0.8395" stop-color="#c6c6c6"/><stop offset="0.8431" stop-color="#c6c6c6"/><stop offset="0.8468" stop-color="#c6c6c6"/><stop offset="0.8504" stop-color="#c2c2c2"/><stop offset="0.8541" stop-color="#c2c2c2"/><stop offset="0.8577" stop-color="#c2c2c2"/><stop offset="0.8614" stop-color="#c6c6c6"/><stop offset="0.865" stop-color="#c6c6c6"/><stop offset="0.8687" stop-color="#c6c6c6"/><stop offset="0.8724" stop-color="#c6c6c6"/><stop offset="0.876" stop-color="#c6c6c6"/><stop offset="0.8797" stop-color="#c6c6c6"/><stop offset="0.8833" stop-color="#c6c6c6"/><stop offset="0.887" stop-color="#c6c6c6"/><stop offset="0.8906" stop-color="#c6c6c6"/><stop offset="0.8943" stop-color="#c2c2c2"/><stop offset="0.8979" stop-color="#c2c2c2"/><stop offset="0.9016" stop-color="#c2c2c2"/><stop offset="0.9052" stop-color="#c2c2c2"/><stop offset="0.9089" stop-color="#bebebe"/><stop offset="0.9125" stop-color="#bebebe"/><stop offset="0.9162" stop-color="#c2c2c2"/><stop offset="0.9199" stop-color="#c2c2c2"/><stop offset="0.9235" stop-color="#c2c2c2"/><stop offset="0.9272" stop-color="#c2c2c2"/><stop offset="0.9308" stop-color="#c2c2c2"/><stop offset="0.9345" stop-color="#c2c2c2"/><stop offset="0.9381" stop-color="#c6c6c6"/><stop offset="0.9418" stop-color="#c6c6c6"/><stop offset="0.9454" stop-color="#c2c2c2"/><stop offset="0.9491" stop-color="#c2c2c2"/><stop offset="0.9527" stop-color="#c2c2c2"/><stop offset="0.9564" stop-color="#c2c2c2"/><stop offset="0.96" stop-color="#bebebe"/><stop offset="0.9637" stop-color="#bebebe"/><stop offset="0.9674" stop-color="#bebebe"/><stop offset="0.971" stop-color="#bebebe"/><stop offset="0.9747" stop-color="#bebebe"/><stop offset="0.9783" stop-color="#bebebe"/><stop offset="0.982" stop-color="#bebebe"/><stop offset="0.9856" stop-color="#bebebe"/><stop offset="0.9893" stop-color="#bebebe"/><stop offset="0.9929" stop-color="#bebebe"/><stop offset="0.9966" stop-color="#bebebe"/><stop offset="1" stop-color="#c2c2c2"/></linearGradient><linearGradient id="cr1" gradientUnits="userSpaceOnUse" x1="78.8" y1="0" x2="899.8" y2="0"><stop offset="0" stop-color="#eaeaea"/><stop offset="0.0033" stop-color="#eaeaea"/><stop offset="0.0069" stop-color="#eaeaea"/><stop offset="0.013" stop-color="#e2e2e2"/><stop offset="0.0203" stop-color="#e2e2e2"/><stop offset="0.0264" stop-color="#eeeeee"/><stop offset="0.0544" stop-color="#eeeeee"/><stop offset="0.0605" stop-color="#eaeaea"/><stop offset="0.0739" stop-color="#eaeaea"/><stop offset="0.0806" stop-color="#e2e2e2"/><stop offset="0.0873" stop-color="#f6f6f6"/><stop offset="0.1153" stop-color="#f6f6f6"/><stop offset="0.1214" stop-color="#fafafa"/><stop offset="0.1629" stop-color="#fafafa"/><stop offset="0.1689" stop-color="#f6f6f6"/><stop offset="0.1836" stop-color="#f6f6f6"/><stop offset="0.1896" stop-color="#fefefe"/><stop offset="0.2043" stop-color="#fefefe"/><stop offset="0.2104" stop-color="#f6f6f6"/><stop offset="0.2311" stop-color="#f6f6f6"/><stop offset="0.2371" stop-color="#fefefe"/><stop offset="0.2579" stop-color="#fefefe"/><stop offset="0.2639" stop-color="#f6f6f6"/><stop offset="0.3066" stop-color="#f6f6f6"/><stop offset="0.3127" stop-color="#fefefe"/><stop offset="0.3419" stop-color="#fefefe"/><stop offset="0.348" stop-color="#f6f6f6"/><stop offset="0.3882" stop-color="#f6f6f6"/><stop offset="0.3943" stop-color="#fefefe"/><stop offset="0.4272" stop-color="#fefefe"/><stop offset="0.4333" stop-color="#eeeeee"/><stop offset="0.4521" stop-color="#eeeeee"/><stop offset="0.4558" stop-color="#eeeeee"/><stop offset="0.4594" stop-color="#eeeeee"/><stop offset="0.4631" stop-color="#eeeeee"/><stop offset="0.4667" stop-color="#eeeeee"/><stop offset="0.4704" stop-color="#eeeeee"/><stop offset="0.4741" stop-color="#eeeeee"/><stop offset="0.4777" stop-color="#eeeeee"/><stop offset="0.4814" stop-color="#eeeeee"/><stop offset="0.485" stop-color="#eeeeee"/><stop offset="0.4887" stop-color="#eeeeee"/><stop offset="0.4923" stop-color="#eaeaea"/><stop offset="0.496" stop-color="#eaeaea"/><stop offset="0.4996" stop-color="#eaeaea"/><stop offset="0.5033" stop-color="#eaeaea"/><stop offset="0.5069" stop-color="#eaeaea"/><stop offset="0.5106" stop-color="#eaeaea"/><stop offset="0.5143" stop-color="#eaeaea"/><stop offset="0.5179" stop-color="#eaeaea"/><stop offset="0.5216" stop-color="#eaeaea"/><stop offset="0.5252" stop-color="#eaeaea"/><stop offset="0.5289" stop-color="#eaeaea"/><stop offset="0.5325" stop-color="#eeeeee"/><stop offset="0.5362" stop-color="#eeeeee"/><stop offset="0.5398" stop-color="#eaeaea"/><stop offset="0.5435" stop-color="#eaeaea"/><stop offset="0.5471" stop-color="#eaeaea"/><stop offset="0.5508" stop-color="#eaeaea"/><stop offset="0.5544" stop-color="#eaeaea"/><stop offset="0.5581" stop-color="#eeeeee"/><stop offset="0.5618" stop-color="#eaeaea"/><stop offset="0.5654" stop-color="#eaeaea"/><stop offset="0.5691" stop-color="#eaeaea"/><stop offset="0.5727" stop-color="#e6e6e6"/><stop offset="0.5764" stop-color="#e6e6e6"/><stop offset="0.58" stop-color="#eaeaea"/><stop offset="0.5837" stop-color="#eaeaea"/><stop offset="0.5873" stop-color="#eaeaea"/><stop offset="0.591" stop-color="#eaeaea"/><stop offset="0.5946" stop-color="#eaeaea"/><stop offset="0.5983" stop-color="#eaeaea"/><stop offset="0.6019" stop-color="#e6e6e6"/><stop offset="0.6056" stop-color="#e6e6e6"/><stop offset="0.6093" stop-color="#e6e6e6"/><stop offset="0.6129" stop-color="#e6e6e6"/><stop offset="0.6166" stop-color="#e6e6e6"/><stop offset="0.6202" stop-color="#e6e6e6"/><stop offset="0.6239" stop-color="#e6e6e6"/><stop offset="0.6275" stop-color="#e6e6e6"/><stop offset="0.6312" stop-color="#e2e2e2"/><stop offset="0.6348" stop-color="#e2e2e2"/><stop offset="0.6385" stop-color="#dedede"/><stop offset="0.6421" stop-color="#dedede"/><stop offset="0.6458" stop-color="#dedede"/><stop offset="0.6495" stop-color="#e2e2e2"/><stop offset="0.6531" stop-color="#e2e2e2"/><stop offset="0.6568" stop-color="#dedede"/><stop offset="0.6604" stop-color="#dedede"/><stop offset="0.6641" stop-color="#dedede"/><stop offset="0.6677" stop-color="#dadada"/><stop offset="0.6714" stop-color="#dadada"/><stop offset="0.675" stop-color="#dadada"/><stop offset="0.6787" stop-color="#dadada"/><stop offset="0.6823" stop-color="#dadada"/><stop offset="0.686" stop-color="#dedede"/><stop offset="0.6896" stop-color="#dedede"/><stop offset="0.6933" stop-color="#dadada"/><stop offset="0.697" stop-color="#dadada"/><stop offset="0.7006" stop-color="#dadada"/><stop offset="0.7043" stop-color="#d6d6d6"/><stop offset="0.7079" stop-color="#d6d6d6"/><stop offset="0.7116" stop-color="#d6d6d6"/><stop offset="0.7152" stop-color="#d6d6d6"/><stop offset="0.7189" stop-color="#d6d6d6"/><stop offset="0.7225" stop-color="#d6d6d6"/><stop offset="0.7262" stop-color="#d6d6d6"/><stop offset="0.7298" stop-color="#dadada"/><stop offset="0.7335" stop-color="#d6d6d6"/><stop offset="0.7371" stop-color="#d6d6d6"/><stop offset="0.7408" stop-color="#d6d6d6"/><stop offset="0.7445" stop-color="#d2d2d2"/><stop offset="0.7481" stop-color="#d2d2d2"/><stop offset="0.7518" stop-color="#cecece"/><stop offset="0.7554" stop-color="#cecece"/><stop offset="0.7591" stop-color="#cecece"/><stop offset="0.7627" stop-color="#d2d2d2"/><stop offset="0.7664" stop-color="#d2d2d2"/><stop offset="0.77" stop-color="#d6d6d6"/><stop offset="0.7737" stop-color="#d6d6d6"/><stop offset="0.7773" stop-color="#d6d6d6"/><stop offset="0.781" stop-color="#d6d6d6"/><stop offset="0.7847" stop-color="#d2d2d2"/><stop offset="0.7883" stop-color="#d2d2d2"/><stop offset="0.792" stop-color="#cecece"/><stop offset="0.7956" stop-color="#cecece"/><stop offset="0.7993" stop-color="#cecece"/><stop offset="0.8029" stop-color="#cecece"/><stop offset="0.8066" stop-color="#cecece"/><stop offset="0.8102" stop-color="#cecece"/><stop offset="0.8139" stop-color="#d2d2d2"/><stop offset="0.8175" stop-color="#d2d2d2"/><stop offset="0.8212" stop-color="#d2d2d2"/><stop offset="0.8248" stop-color="#d6d6d6"/><stop offset="0.8285" stop-color="#d2d2d2"/><stop offset="0.8322" stop-color="#d2d2d2"/><stop offset="0.8358" stop-color="#d2d2d2"/><stop offset="0.8395" stop-color="#cecece"/><stop offset="0.8431" stop-color="#cacaca"/><stop offset="0.8468" stop-color="#cacaca"/><stop offset="0.8504" stop-color="#cacaca"/><stop offset="0.8541" stop-color="#cacaca"/><stop offset="0.8577" stop-color="#cacaca"/><stop offset="0.8614" stop-color="#cacaca"/><stop offset="0.865" stop-color="#cecece"/><stop offset="0.8687" stop-color="#cecece"/><stop offset="0.8724" stop-color="#d2d2d2"/><stop offset="0.876" stop-color="#d2d2d2"/><stop offset="0.8797" stop-color="#d2d2d2"/><stop offset="0.8833" stop-color="#d2d2d2"/><stop offset="0.887" stop-color="#cecece"/><stop offset="0.8906" stop-color="#cecece"/><stop offset="0.8943" stop-color="#cacaca"/><stop offset="0.8979" stop-color="#cacaca"/><stop offset="0.9016" stop-color="#c6c6c6"/><stop offset="0.9052" stop-color="#c6c6c6"/><stop offset="0.9089" stop-color="#c6c6c6"/><stop offset="0.9125" stop-color="#c6c6c6"/><stop offset="0.9162" stop-color="#c6c6c6"/><stop offset="0.9199" stop-color="#c6c6c6"/><stop offset="0.9235" stop-color="#cacaca"/><stop offset="0.9272" stop-color="#cacaca"/><stop offset="0.9308" stop-color="#cacaca"/><stop offset="0.9345" stop-color="#cecece"/><stop offset="0.9381" stop-color="#cecece"/><stop offset="0.9418" stop-color="#cecece"/><stop offset="0.9454" stop-color="#cecece"/><stop offset="0.9491" stop-color="#cacaca"/><stop offset="0.9527" stop-color="#cacaca"/><stop offset="0.9564" stop-color="#cacaca"/><stop offset="0.96" stop-color="#c6c6c6"/><stop offset="0.9637" stop-color="#c6c6c6"/><stop offset="0.9674" stop-color="#c2c2c2"/><stop offset="0.971" stop-color="#c2c2c2"/><stop offset="0.9747" stop-color="#c2c2c2"/><stop offset="0.9783" stop-color="#c2c2c2"/><stop offset="0.982" stop-color="#c2c2c2"/><stop offset="0.9856" stop-color="#c2c2c2"/><stop offset="0.9893" stop-color="#c6c6c6"/><stop offset="0.9929" stop-color="#c6c6c6"/><stop offset="0.9966" stop-color="#c6c6c6"/><stop offset="1" stop-color="#cacaca"/></linearGradient><linearGradient id="cr2" gradientUnits="userSpaceOnUse" x1="78.8" y1="0" x2="899.8" y2="0"><stop offset="0" stop-color="#e6e6e6"/><stop offset="0.0033" stop-color="#e6e6e6"/><stop offset="0.0069" stop-color="#e6e6e6"/><stop offset="0.013" stop-color="#e2e2e2"/><stop offset="0.0276" stop-color="#e2e2e2"/><stop offset="0.0337" stop-color="#eeeeee"/><stop offset="0.0544" stop-color="#eeeeee"/><stop offset="0.0605" stop-color="#e6e6e6"/><stop offset="0.0739" stop-color="#e6e6e6"/><stop offset="0.08" stop-color="#eeeeee"/><stop offset="0.0886" stop-color="#eeeeee"/><stop offset="0.0946" stop-color="#f6f6f6"/><stop offset="0.1153" stop-color="#f6f6f6"/><stop offset="0.1214" stop-color="#fafafa"/><stop offset="0.1762" stop-color="#fafafa"/><stop offset="0.1823" stop-color="#fefefe"/><stop offset="0.2043" stop-color="#fefefe"/><stop offset="0.2104" stop-color="#f6f6f6"/><stop offset="0.2311" stop-color="#f6f6f6"/><stop offset="0.2371" stop-color="#fefefe"/><stop offset="0.2579" stop-color="#fefefe"/><stop offset="0.2639" stop-color="#f6f6f6"/><stop offset="0.3066" stop-color="#f6f6f6"/><stop offset="0.3127" stop-color="#fefefe"/><stop offset="0.3456" stop-color="#fefefe"/><stop offset="0.3516" stop-color="#f6f6f6"/><stop offset="0.3821" stop-color="#f6f6f6"/><stop offset="0.3882" stop-color="#fafafa"/><stop offset="0.3943" stop-color="#fafafa"/><stop offset="0.4004" stop-color="#fefefe"/><stop offset="0.4308" stop-color="#fefefe"/><stop offset="0.4369" stop-color="#f2f2f2"/><stop offset="0.443" stop-color="#f2f2f2"/><stop offset="0.4491" stop-color="#f2f2f2"/><stop offset="0.4521" stop-color="#f2f2f2"/><stop offset="0.4558" stop-color="#f2f2f2"/><stop offset="0.4594" stop-color="#f2f2f2"/><stop offset="0.4631" stop-color="#f2f2f2"/><stop offset="0.4667" stop-color="#f2f2f2"/><stop offset="0.4704" stop-color="#f2f2f2"/><stop offset="0.4741" stop-color="#f2f2f2"/><stop offset="0.4777" stop-color="#f2f2f2"/><stop offset="0.4814" stop-color="#f2f2f2"/><stop offset="0.485" stop-color="#f2f2f2"/><stop offset="0.4887" stop-color="#eeeeee"/><stop offset="0.4923" stop-color="#eaeaea"/><stop offset="0.496" stop-color="#eaeaea"/><stop offset="0.4996" stop-color="#eaeaea"/><stop offset="0.5033" stop-color="#eaeaea"/><stop offset="0.5069" stop-color="#eaeaea"/><stop offset="0.5106" stop-color="#eaeaea"/><stop offset="0.5143" stop-color="#eaeaea"/><stop offset="0.5179" stop-color="#eaeaea"/><stop offset="0.5216" stop-color="#eaeaea"/><stop offset="0.5252" stop-color="#eaeaea"/><stop offset="0.5289" stop-color="#eaeaea"/><stop offset="0.5325" stop-color="#eeeeee"/><stop offset="0.5362" stop-color="#eeeeee"/><stop offset="0.5398" stop-color="#eaeaea"/><stop offset="0.5435" stop-color="#eaeaea"/><stop offset="0.5471" stop-color="#eaeaea"/><stop offset="0.5508" stop-color="#eaeaea"/><stop offset="0.5544" stop-color="#eaeaea"/><stop offset="0.5581" stop-color="#eeeeee"/><stop offset="0.5618" stop-color="#eaeaea"/><stop offset="0.5654" stop-color="#eaeaea"/><stop offset="0.5691" stop-color="#eaeaea"/><stop offset="0.5727" stop-color="#e6e6e6"/><stop offset="0.5764" stop-color="#e6e6e6"/><stop offset="0.58" stop-color="#eaeaea"/><stop offset="0.5837" stop-color="#eaeaea"/><stop offset="0.5873" stop-color="#eaeaea"/><stop offset="0.591" stop-color="#eaeaea"/><stop offset="0.5946" stop-color="#eaeaea"/><stop offset="0.5983" stop-color="#eaeaea"/><stop offset="0.6019" stop-color="#e6e6e6"/><stop offset="0.6056" stop-color="#e6e6e6"/><stop offset="0.6093" stop-color="#eaeaea"/><stop offset="0.6129" stop-color="#eaeaea"/><stop offset="0.6166" stop-color="#e6e6e6"/><stop offset="0.6202" stop-color="#e2e2e2"/><stop offset="0.6239" stop-color="#e2e2e2"/><stop offset="0.6275" stop-color="#e2e2e2"/><stop offset="0.6312" stop-color="#dedede"/><stop offset="0.6348" stop-color="#dedede"/><stop offset="0.6385" stop-color="#dedede"/><stop offset="0.6421" stop-color="#dedede"/><stop offset="0.6458" stop-color="#dedede"/><stop offset="0.6495" stop-color="#dedede"/><stop offset="0.6531" stop-color="#e2e2e2"/><stop offset="0.6568" stop-color="#dedede"/><stop offset="0.6604" stop-color="#dedede"/><stop offset="0.6641" stop-color="#dedede"/><stop offset="0.6677" stop-color="#dadada"/><stop offset="0.6714" stop-color="#dadada"/><stop offset="0.675" stop-color="#dadada"/><stop offset="0.6787" stop-color="#dadada"/><stop offset="0.6823" stop-color="#dadada"/><stop offset="0.686" stop-color="#dedede"/><stop offset="0.6896" stop-color="#dedede"/><stop offset="0.6933" stop-color="#dedede"/><stop offset="0.697" stop-color="#dadada"/><stop offset="0.7006" stop-color="#dadada"/><stop offset="0.7043" stop-color="#d6d6d6"/><stop offset="0.7079" stop-color="#d6d6d6"/><stop offset="0.7116" stop-color="#d6d6d6"/><stop offset="0.7152" stop-color="#d6d6d6"/><stop offset="0.7189" stop-color="#d6d6d6"/><stop offset="0.7225" stop-color="#dadada"/><stop offset="0.7262" stop-color="#dadada"/><stop offset="0.7298" stop-color="#dadada"/><stop offset="0.7335" stop-color="#dadada"/><stop offset="0.7371" stop-color="#dadada"/><stop offset="0.7408" stop-color="#d6d6d6"/><stop offset="0.7445" stop-color="#d6d6d6"/><stop offset="0.7481" stop-color="#d2d2d2"/><stop offset="0.7518" stop-color="#d2d2d2"/><stop offset="0.7554" stop-color="#d2d2d2"/><stop offset="0.7591" stop-color="#d2d2d2"/><stop offset="0.7627" stop-color="#d2d2d2"/><stop offset="0.7664" stop-color="#d6d6d6"/><stop offset="0.77" stop-color="#d6d6d6"/><stop offset="0.7737" stop-color="#d6d6d6"/><stop offset="0.7773" stop-color="#d6d6d6"/><stop offset="0.781" stop-color="#d6d6d6"/><stop offset="0.7847" stop-color="#d6d6d6"/><stop offset="0.7883" stop-color="#d2d2d2"/><stop offset="0.792" stop-color="#cecece"/><stop offset="0.7956" stop-color="#cecece"/><stop offset="0.7993" stop-color="#cecece"/><stop offset="0.8029" stop-color="#cecece"/><stop offset="0.8066" stop-color="#cecece"/><stop offset="0.8102" stop-color="#cecece"/><stop offset="0.8139" stop-color="#d2d2d2"/><stop offset="0.8175" stop-color="#d2d2d2"/><stop offset="0.8212" stop-color="#d2d2d2"/><stop offset="0.8248" stop-color="#d6d6d6"/><stop offset="0.8285" stop-color="#d2d2d2"/><stop offset="0.8322" stop-color="#d2d2d2"/><stop offset="0.8358" stop-color="#d2d2d2"/><stop offset="0.8395" stop-color="#cecece"/><stop offset="0.8431" stop-color="#cecece"/><stop offset="0.8468" stop-color="#cacaca"/><stop offset="0.8504" stop-color="#cacaca"/><stop offset="0.8541" stop-color="#cacaca"/><stop offset="0.8577" stop-color="#cacaca"/><stop offset="0.8614" stop-color="#cecece"/><stop offset="0.865" stop-color="#cecece"/><stop offset="0.8687" stop-color="#cecece"/><stop offset="0.8724" stop-color="#d2d2d2"/><stop offset="0.876" stop-color="#d2d2d2"/><stop offset="0.8797" stop-color="#d2d2d2"/><stop offset="0.8833" stop-color="#d2d2d2"/><stop offset="0.887" stop-color="#d2d2d2"/><stop offset="0.8906" stop-color="#cecece"/><stop offset="0.8943" stop-color="#cecece"/><stop offset="0.8979" stop-color="#cacaca"/><stop offset="0.9016" stop-color="#cacaca"/><stop offset="0.9052" stop-color="#cacaca"/><stop offset="0.9089" stop-color="#cacaca"/><stop offset="0.9125" stop-color="#cacaca"/><stop offset="0.9162" stop-color="#cacaca"/><stop offset="0.9199" stop-color="#cacaca"/><stop offset="0.9235" stop-color="#cacaca"/><stop offset="0.9272" stop-color="#cecece"/><stop offset="0.9308" stop-color="#cecece"/><stop offset="0.9345" stop-color="#cecece"/><stop offset="0.9381" stop-color="#cecece"/><stop offset="0.9418" stop-color="#cecece"/><stop offset="0.9454" stop-color="#cecece"/><stop offset="0.9491" stop-color="#cecece"/><stop offset="0.9527" stop-color="#cecece"/><stop offset="0.9564" stop-color="#cacaca"/><stop offset="0.96" stop-color="#cacaca"/><stop offset="0.9637" stop-color="#c6c6c6"/><stop offset="0.9674" stop-color="#c6c6c6"/><stop offset="0.971" stop-color="#c6c6c6"/><stop offset="0.9747" stop-color="#c6c6c6"/><stop offset="0.9783" stop-color="#c6c6c6"/><stop offset="0.982" stop-color="#c6c6c6"/><stop offset="0.9856" stop-color="#c6c6c6"/><stop offset="0.9893" stop-color="#c6c6c6"/><stop offset="0.9929" stop-color="#cacaca"/><stop offset="0.9966" stop-color="#cacaca"/><stop offset="1" stop-color="#cacaca"/></linearGradient><linearGradient id="cr3" gradientUnits="userSpaceOnUse" x1="78.8" y1="0" x2="899.8" y2="0"><stop offset="0" stop-color="#eaeaea"/><stop offset="0.0033" stop-color="#eaeaea"/><stop offset="0.0203" stop-color="#eaeaea"/><stop offset="0.0264" stop-color="#f6f6f6"/><stop offset="0.0544" stop-color="#f6f6f6"/><stop offset="0.0605" stop-color="#eaeaea"/><stop offset="0.0739" stop-color="#eaeaea"/><stop offset="0.08" stop-color="#f2f2f2"/><stop offset="0.1153" stop-color="#f2f2f2"/><stop offset="0.1214" stop-color="#fefefe"/><stop offset="0.197" stop-color="#fefefe"/><stop offset="0.203" stop-color="#f6f6f6"/><stop offset="0.2238" stop-color="#f6f6f6"/><stop offset="0.2298" stop-color="#f2f2f2"/><stop offset="0.2445" stop-color="#f2f2f2"/><stop offset="0.2512" stop-color="#e2e2e2"/><stop offset="0.2579" stop-color="#fefefe"/><stop offset="0.2749" stop-color="#fefefe"/><stop offset="0.281" stop-color="#f2f2f2"/><stop offset="0.292" stop-color="#f2f2f2"/><stop offset="0.2981" stop-color="#e2e2e2"/><stop offset="0.3054" stop-color="#e2e2e2"/><stop offset="0.3114" stop-color="#eeeeee"/><stop offset="0.3212" stop-color="#eeeeee"/><stop offset="0.3273" stop-color="#e2e2e2"/><stop offset="0.4125" stop-color="#e2e2e2"/><stop offset="0.4186" stop-color="#e2e2e2"/><stop offset="0.4521" stop-color="#e2e2e2"/><stop offset="0.4558" stop-color="#e2e2e2"/><stop offset="0.4594" stop-color="#e2e2e2"/><stop offset="0.4631" stop-color="#e2e2e2"/><stop offset="0.4667" stop-color="#e2e2e2"/><stop offset="0.4704" stop-color="#dedede"/><stop offset="0.4741" stop-color="#dedede"/><stop offset="0.4777" stop-color="#dedede"/><stop offset="0.4814" stop-color="#e2e2e2"/><stop offset="0.485" stop-color="#e2e2e2"/><stop offset="0.4887" stop-color="#e2e2e2"/><stop offset="0.4923" stop-color="#dedede"/><stop offset="0.496" stop-color="#dedede"/><stop offset="0.4996" stop-color="#dedede"/><stop offset="0.5033" stop-color="#dedede"/><stop offset="0.5069" stop-color="#e2e2e2"/><stop offset="0.5106" stop-color="#e2e2e2"/><stop offset="0.5143" stop-color="#dedede"/><stop offset="0.5179" stop-color="#dedede"/><stop offset="0.5216" stop-color="#dedede"/><stop offset="0.5252" stop-color="#dedede"/><stop offset="0.5289" stop-color="#dedede"/><stop offset="0.5325" stop-color="#dedede"/><stop offset="0.5362" stop-color="#dedede"/><stop offset="0.5398" stop-color="#dedede"/><stop offset="0.5435" stop-color="#dedede"/><stop offset="0.5471" stop-color="#dedede"/><stop offset="0.5508" stop-color="#dedede"/><stop offset="0.5544" stop-color="#dadada"/><stop offset="0.5581" stop-color="#dedede"/><stop offset="0.5618" stop-color="#dedede"/><stop offset="0.5654" stop-color="#dedede"/><stop offset="0.5691" stop-color="#dedede"/><stop offset="0.5727" stop-color="#dedede"/><stop offset="0.5764" stop-color="#dedede"/><stop offset="0.58" stop-color="#dedede"/><stop offset="0.5837" stop-color="#dadada"/><stop offset="0.5873" stop-color="#d6d6d6"/><stop offset="0.591" stop-color="#d6d6d6"/><stop offset="0.5946" stop-color="#d6d6d6"/><stop offset="0.5983" stop-color="#dadada"/><stop offset="0.6019" stop-color="#dadada"/><stop offset="0.6056" stop-color="#dadada"/><stop offset="0.6093" stop-color="#d6d6d6"/><stop offset="0.6129" stop-color="#d6d6d6"/><stop offset="0.6166" stop-color="#d2d2d2"/><stop offset="0.6202" stop-color="#d2d2d2"/><stop offset="0.6239" stop-color="#d2d2d2"/><stop offset="0.6275" stop-color="#d6d6d6"/><stop offset="0.6312" stop-color="#d6d6d6"/><stop offset="0.6348" stop-color="#dadada"/><stop offset="0.6385" stop-color="#dadada"/><stop offset="0.6421" stop-color="#dadada"/><stop offset="0.6458" stop-color="#d6d6d6"/><stop offset="0.6495" stop-color="#d2d2d2"/><stop offset="0.6531" stop-color="#d2d2d2"/><stop offset="0.6568" stop-color="#d2d2d2"/><stop offset="0.6604" stop-color="#d2d2d2"/><stop offset="0.6641" stop-color="#d2d2d2"/><stop offset="0.6677" stop-color="#d6d6d6"/><stop offset="0.6714" stop-color="#d6d6d6"/><stop offset="0.675" stop-color="#dadada"/><stop offset="0.6787" stop-color="#dadada"/><stop offset="0.6823" stop-color="#d6d6d6"/><stop offset="0.686" stop-color="#d6d6d6"/><stop offset="0.6896" stop-color="#d2d2d2"/><stop offset="0.6933" stop-color="#d2d2d2"/><stop offset="0.697" stop-color="#cecece"/><stop offset="0.7006" stop-color="#cecece"/><stop offset="0.7043" stop-color="#cecece"/><stop offset="0.7079" stop-color="#d2d2d2"/><stop offset="0.7116" stop-color="#d6d6d6"/><stop offset="0.7152" stop-color="#d6d6d6"/><stop offset="0.7189" stop-color="#dadada"/><stop offset="0.7225" stop-color="#dadada"/><stop offset="0.7262" stop-color="#d6d6d6"/><stop offset="0.7298" stop-color="#d6d6d6"/><stop offset="0.7335" stop-color="#d2d2d2"/><stop offset="0.7371" stop-color="#cecece"/><stop offset="0.7408" stop-color="#cecece"/><stop offset="0.7445" stop-color="#cecece"/><stop offset="0.7481" stop-color="#cecece"/><stop offset="0.7518" stop-color="#cecece"/><stop offset="0.7554" stop-color="#d2d2d2"/><stop offset="0.7591" stop-color="#d2d2d2"/><stop offset="0.7627" stop-color="#d6d6d6"/><stop offset="0.7664" stop-color="#d6d6d6"/><stop offset="0.77" stop-color="#dadada"/><stop offset="0.7737" stop-color="#d6d6d6"/><stop offset="0.7773" stop-color="#d6d6d6"/><stop offset="0.781" stop-color="#d2d2d2"/><stop offset="0.7847" stop-color="#cecece"/><stop offset="0.7883" stop-color="#cecece"/><stop offset="0.792" stop-color="#cacaca"/><stop offset="0.7956" stop-color="#cacaca"/><stop offset="0.7993" stop-color="#cacaca"/><stop offset="0.8029" stop-color="#cacaca"/><stop offset="0.8066" stop-color="#cecece"/><stop offset="0.8102" stop-color="#cecece"/><stop offset="0.8139" stop-color="#d2d2d2"/><stop offset="0.8175" stop-color="#d6d6d6"/><stop offset="0.8212" stop-color="#d6d6d6"/><stop offset="0.8248" stop-color="#d6d6d6"/><stop offset="0.8285" stop-color="#d6d6d6"/><stop offset="0.8322" stop-color="#d6d6d6"/><stop offset="0.8358" stop-color="#d2d2d2"/><stop offset="0.8395" stop-color="#cecece"/><stop offset="0.8431" stop-color="#cecece"/><stop offset="0.8468" stop-color="#cacaca"/><stop offset="0.8504" stop-color="#c6c6c6"/><stop offset="0.8541" stop-color="#c6c6c6"/><stop offset="0.8577" stop-color="#c6c6c6"/><stop offset="0.8614" stop-color="#c6c6c6"/><stop offset="0.865" stop-color="#cacaca"/><stop offset="0.8687" stop-color="#cecece"/><stop offset="0.8724" stop-color="#cecece"/><stop offset="0.876" stop-color="#d2d2d2"/><stop offset="0.8797" stop-color="#d6d6d6"/><stop offset="0.8833" stop-color="#d6d6d6"/><stop offset="0.887" stop-color="#d6d6d6"/><stop offset="0.8906" stop-color="#d6d6d6"/><stop offset="0.8943" stop-color="#d2d2d2"/><stop offset="0.8979" stop-color="#d2d2d2"/><stop offset="0.9016" stop-color="#cecece"/><stop offset="0.9052" stop-color="#cacaca"/><stop offset="0.9089" stop-color="#cacaca"/><stop offset="0.9125" stop-color="#c6c6c6"/><stop offset="0.9162" stop-color="#c6c6c6"/><stop offset="0.9199" stop-color="#c6c6c6"/><stop offset="0.9235" stop-color="#c6c6c6"/><stop offset="0.9272" stop-color="#c6c6c6"/><stop offset="0.9308" stop-color="#c6c6c6"/><stop offset="0.9345" stop-color="#cacaca"/><stop offset="0.9381" stop-color="#cacaca"/><stop offset="0.9418" stop-color="#cecece"/><stop offset="0.9454" stop-color="#cecece"/><stop offset="0.9491" stop-color="#d2d2d2"/><stop offset="0.9527" stop-color="#d2d2d2"/><stop offset="0.9564" stop-color="#d2d2d2"/><stop offset="0.96" stop-color="#d2d2d2"/><stop offset="0.9637" stop-color="#d2d2d2"/><stop offset="0.9674" stop-color="#cecece"/><stop offset="0.971" stop-color="#cecece"/><stop offset="0.9747" stop-color="#cacaca"/><stop offset="0.9783" stop-color="#c6c6c6"/><stop offset="0.982" stop-color="#c6c6c6"/><stop offset="0.9856" stop-color="#c2c2c2"/><stop offset="0.9893" stop-color="#c2c2c2"/><stop offset="0.9929" stop-color="#c2c2c2"/><stop offset="0.9966" stop-color="#bebebe"/><stop offset="1" stop-color="#c2c2c2"/></linearGradient><linearGradient id="cr4" gradientUnits="userSpaceOnUse" x1="78.8" y1="0" x2="899.8" y2="0"><stop offset="0" stop-color="#5e5e5e"/><stop offset="0.0002" stop-color="#5e5e5e"/><stop offset="0.0088" stop-color="#5e5e5e"/><stop offset="0.0136" stop-color="#727272"/><stop offset="0.0185" stop-color="#828282"/><stop offset="0.0283" stop-color="#8a8a8a"/><stop offset="0.0386" stop-color="#9a9a9a"/><stop offset="0.0453" stop-color="#868686"/><stop offset="0.0524" stop-color="#a2a2a2"/><stop offset="0.0563" stop-color="#b2b2b2"/><stop offset="0.0599" stop-color="#c2c2c2"/><stop offset="0.066" stop-color="#c2c2c2"/><stop offset="0.0715" stop-color="#bebebe"/><stop offset="0.0812" stop-color="#bebebe"/><stop offset="0.0861" stop-color="#c6c6c6"/><stop offset="0.091" stop-color="#bababa"/><stop offset="0.0971" stop-color="#bababa"/><stop offset="0.1038" stop-color="#c6c6c6"/><stop offset="0.1105" stop-color="#cecece"/><stop offset="0.1166" stop-color="#cecece"/><stop offset="0.1233" stop-color="#c6c6c6"/><stop offset="0.13" stop-color="#bababa"/><stop offset="0.1324" stop-color="#bababa"/><stop offset="0.1385" stop-color="#cacaca"/><stop offset="0.1446" stop-color="#cacaca"/><stop offset="0.1513" stop-color="#c2c2c2"/><stop offset="0.158" stop-color="#bababa"/><stop offset="0.1616" stop-color="#bababa"/><stop offset="0.1677" stop-color="#c6c6c6"/><stop offset="0.1714" stop-color="#c6c6c6"/><stop offset="0.1775" stop-color="#b6b6b6"/><stop offset="0.1799" stop-color="#b6b6b6"/><stop offset="0.186" stop-color="#a6a6a6"/><stop offset="0.2067" stop-color="#a6a6a6"/><stop offset="0.2128" stop-color="#bababa"/><stop offset="0.2238" stop-color="#bababa"/><stop offset="0.2305" stop-color="#c6c6c6"/><stop offset="0.2371" stop-color="#b6b6b6"/><stop offset="0.2469" stop-color="#b6b6b6"/><stop offset="0.2536" stop-color="#a6a6a6"/><stop offset="0.2603" stop-color="#fefefe"/><stop offset="0.2749" stop-color="#fefefe"/><stop offset="0.281" stop-color="#dadada"/><stop offset="0.2907" stop-color="#dadada"/><stop offset="0.2968" stop-color="#929292"/><stop offset="0.3029" stop-color="#929292"/><stop offset="0.309" stop-color="#bababa"/><stop offset="0.3127" stop-color="#bababa"/><stop offset="0.3188" stop-color="#aeaeae"/><stop offset="0.3297" stop-color="#aeaeae"/><stop offset="0.3364" stop-color="#a2a2a2"/><stop offset="0.3431" stop-color="#e2e2e2"/><stop offset="0.3468" stop-color="#e2e2e2"/><stop offset="0.3529" stop-color="#9a9a9a"/><stop offset="0.359" stop-color="#767676"/><stop offset="0.3699" stop-color="#767676"/><stop offset="0.376" stop-color="#8e8e8e"/><stop offset="0.3797" stop-color="#8e8e8e"/><stop offset="0.3857" stop-color="#6e6e6e"/><stop offset="0.4016" stop-color="#6e6e6e"/><stop offset="0.4071" stop-color="#9a9a9a"/><stop offset="0.4125" stop-color="#dadada"/><stop offset="0.4174" stop-color="#dadada"/><stop offset="0.4223" stop-color="#9a9a9a"/><stop offset="0.4272" stop-color="#666666"/><stop offset="0.4369" stop-color="#666666"/><stop offset="0.4436" stop-color="#868686"/><stop offset="0.4521" stop-color="#626262"/><stop offset="0.4558" stop-color="#626262"/><stop offset="0.4594" stop-color="#626262"/><stop offset="0.4631" stop-color="#626262"/><stop offset="0.4667" stop-color="#626262"/><stop offset="0.4704" stop-color="#626262"/><stop offset="0.4741" stop-color="#626262"/><stop offset="0.4777" stop-color="#626262"/><stop offset="0.4814" stop-color="#626262"/><stop offset="0.485" stop-color="#626262"/><stop offset="0.4887" stop-color="#626262"/><stop offset="0.4923" stop-color="#5e5e5e"/><stop offset="0.496" stop-color="#5e5e5e"/><stop offset="0.4996" stop-color="#5e5e5e"/><stop offset="0.5033" stop-color="#5e5e5e"/><stop offset="0.5069" stop-color="#5e5e5e"/><stop offset="0.5106" stop-color="#5e5e5e"/><stop offset="0.5143" stop-color="#5e5e5e"/><stop offset="0.5179" stop-color="#5e5e5e"/><stop offset="0.5216" stop-color="#5e5e5e"/><stop offset="0.5252" stop-color="#5e5e5e"/><stop offset="0.5289" stop-color="#5e5e5e"/><stop offset="0.5325" stop-color="#5e5e5e"/><stop offset="0.5362" stop-color="#5e5e5e"/><stop offset="0.5398" stop-color="#5e5e5e"/><stop offset="0.5435" stop-color="#5e5e5e"/><stop offset="0.5471" stop-color="#5e5e5e"/><stop offset="0.5508" stop-color="#5e5e5e"/><stop offset="0.5544" stop-color="#5e5e5e"/><stop offset="0.5581" stop-color="#5e5e5e"/><stop offset="0.5618" stop-color="#5e5e5e"/><stop offset="0.5654" stop-color="#5e5e5e"/><stop offset="0.5691" stop-color="#5e5e5e"/><stop offset="0.5727" stop-color="#626262"/><stop offset="0.5764" stop-color="#626262"/><stop offset="0.58" stop-color="#5e5e5e"/><stop offset="0.5837" stop-color="#5e5e5e"/><stop offset="0.5873" stop-color="#5e5e5e"/><stop offset="0.591" stop-color="#5e5e5e"/><stop offset="0.5946" stop-color="#5e5e5e"/><stop offset="0.5983" stop-color="#5e5e5e"/><stop offset="0.6019" stop-color="#5e5e5e"/><stop offset="0.6056" stop-color="#5e5e5e"/><stop offset="0.6093" stop-color="#626262"/><stop offset="0.6129" stop-color="#626262"/><stop offset="0.6166" stop-color="#626262"/><stop offset="0.6202" stop-color="#5e5e5e"/><stop offset="0.6239" stop-color="#5e5e5e"/><stop offset="0.6275" stop-color="#5e5e5e"/><stop offset="0.6312" stop-color="#5e5e5e"/><stop offset="0.6348" stop-color="#5e5e5e"/><stop offset="0.6385" stop-color="#5e5e5e"/><stop offset="0.6421" stop-color="#5e5e5e"/><stop offset="0.6458" stop-color="#5e5e5e"/><stop offset="0.6495" stop-color="#626262"/><stop offset="0.6531" stop-color="#626262"/><stop offset="0.6568" stop-color="#626262"/><stop offset="0.6604" stop-color="#626262"/><stop offset="0.6641" stop-color="#626262"/><stop offset="0.6677" stop-color="#5e5e5e"/><stop offset="0.6714" stop-color="#5e5e5e"/><stop offset="0.675" stop-color="#5e5e5e"/><stop offset="0.6787" stop-color="#5e5e5e"/><stop offset="0.6823" stop-color="#5e5e5e"/><stop offset="0.686" stop-color="#5e5e5e"/><stop offset="0.6896" stop-color="#5e5e5e"/><stop offset="0.6933" stop-color="#5e5e5e"/><stop offset="0.697" stop-color="#626262"/><stop offset="0.7006" stop-color="#626262"/><stop offset="0.7043" stop-color="#626262"/><stop offset="0.7079" stop-color="#626262"/><stop offset="0.7116" stop-color="#626262"/><stop offset="0.7152" stop-color="#626262"/><stop offset="0.7189" stop-color="#5e5e5e"/><stop offset="0.7225" stop-color="#5e5e5e"/><stop offset="0.7262" stop-color="#5e5e5e"/><stop offset="0.7298" stop-color="#5a5a5a"/><stop offset="0.7335" stop-color="#5a5a5a"/><stop offset="0.7371" stop-color="#5e5e5e"/><stop offset="0.7408" stop-color="#5e5e5e"/><stop offset="0.7445" stop-color="#5e5e5e"/><stop offset="0.7481" stop-color="#626262"/><stop offset="0.7518" stop-color="#626262"/><stop offset="0.7554" stop-color="#626262"/><stop offset="0.7591" stop-color="#626262"/><stop offset="0.7627" stop-color="#626262"/><stop offset="0.7664" stop-color="#626262"/><stop offset="0.77" stop-color="#626262"/><stop offset="0.7737" stop-color="#5e5e5e"/><stop offset="0.7773" stop-color="#5e5e5e"/><stop offset="0.781" stop-color="#5e5e5e"/><stop offset="0.7847" stop-color="#5a5a5a"/><stop offset="0.7883" stop-color="#5a5a5a"/><stop offset="0.792" stop-color="#5a5a5a"/><stop offset="0.7956" stop-color="#5a5a5a"/><stop offset="0.7993" stop-color="#5e5e5e"/><stop offset="0.8029" stop-color="#5e5e5e"/><stop offset="0.8066" stop-color="#626262"/><stop offset="0.8102" stop-color="#626262"/><stop offset="0.8139" stop-color="#626262"/><stop offset="0.8175" stop-color="#666666"/><stop offset="0.8212" stop-color="#666666"/><stop offset="0.8248" stop-color="#666666"/><stop offset="0.8285" stop-color="#666666"/><stop offset="0.8322" stop-color="#626262"/><stop offset="0.8358" stop-color="#626262"/><stop offset="0.8395" stop-color="#5e5e5e"/><stop offset="0.8431" stop-color="#5e5e5e"/><stop offset="0.8468" stop-color="#5a5a5a"/><stop offset="0.8504" stop-color="#5a5a5a"/><stop offset="0.8541" stop-color="#5a5a5a"/><stop offset="0.8577" stop-color="#5a5a5a"/><stop offset="0.8614" stop-color="#5a5a5a"/><stop offset="0.865" stop-color="#5a5a5a"/><stop offset="0.8687" stop-color="#5e5e5e"/><stop offset="0.8724" stop-color="#5e5e5e"/><stop offset="0.876" stop-color="#626262"/><stop offset="0.8797" stop-color="#626262"/><stop offset="0.8833" stop-color="#626262"/><stop offset="0.887" stop-color="#666666"/><stop offset="0.8906" stop-color="#666666"/><stop offset="0.8943" stop-color="#666666"/><stop offset="0.8979" stop-color="#666666"/><stop offset="0.9016" stop-color="#666666"/><stop offset="0.9052" stop-color="#626262"/><stop offset="0.9089" stop-color="#626262"/><stop offset="0.9125" stop-color="#5e5e5e"/><stop offset="0.9162" stop-color="#5e5e5e"/><stop offset="0.9199" stop-color="#5e5e5e"/><stop offset="0.9235" stop-color="#5a5a5a"/><stop offset="0.9272" stop-color="#5a5a5a"/><stop offset="0.9308" stop-color="#5a5a5a"/><stop offset="0.9345" stop-color="#5a5a5a"/><stop offset="0.9381" stop-color="#5a5a5a"/><stop offset="0.9418" stop-color="#5a5a5a"/><stop offset="0.9454" stop-color="#5e5e5e"/><stop offset="0.9491" stop-color="#5e5e5e"/><stop offset="0.9527" stop-color="#5e5e5e"/><stop offset="0.9564" stop-color="#626262"/><stop offset="0.96" stop-color="#626262"/><stop offset="0.9637" stop-color="#626262"/><stop offset="0.9674" stop-color="#666666"/><stop offset="0.971" stop-color="#666666"/><stop offset="0.9747" stop-color="#666666"/><stop offset="0.9783" stop-color="#666666"/><stop offset="0.982" stop-color="#666666"/><stop offset="0.9856" stop-color="#666666"/><stop offset="0.9893" stop-color="#626262"/><stop offset="0.9929" stop-color="#626262"/><stop offset="0.9966" stop-color="#626262"/><stop offset="1" stop-color="#5e5e5e"/></linearGradient><linearGradient id="cr5" gradientUnits="userSpaceOnUse" x1="78.8" y1="0" x2="899.8" y2="0"><stop offset="0" stop-color="#b2b2b2"/><stop offset="0.0033" stop-color="#b2b2b2"/><stop offset="0.0094" stop-color="#dedede"/><stop offset="0.0203" stop-color="#dedede"/><stop offset="0.0264" stop-color="#eaeaea"/><stop offset="0.0544" stop-color="#eaeaea"/><stop offset="0.0605" stop-color="#e2e2e2"/><stop offset="0.0739" stop-color="#e2e2e2"/><stop offset="0.08" stop-color="#f2f2f2"/><stop offset="0.1019" stop-color="#f2f2f2"/><stop offset="0.108" stop-color="#fefefe"/><stop offset="0.1348" stop-color="#fefefe"/><stop offset="0.1409" stop-color="#f6f6f6"/><stop offset="0.1507" stop-color="#f6f6f6"/><stop offset="0.1568" stop-color="#fafafa"/><stop offset="0.197" stop-color="#fafafa"/><stop offset="0.203" stop-color="#f6f6f6"/><stop offset="0.2238" stop-color="#f6f6f6"/><stop offset="0.2298" stop-color="#f2f2f2"/><stop offset="0.2518" stop-color="#f2f2f2"/><stop offset="0.2579" stop-color="#f6f6f6"/><stop offset="0.2688" stop-color="#f6f6f6"/><stop offset="0.2749" stop-color="#dadada"/><stop offset="0.3151" stop-color="#dadada"/><stop offset="0.3212" stop-color="#cecece"/><stop offset="0.4125" stop-color="#cecece"/><stop offset="0.4186" stop-color="#cacaca"/><stop offset="0.4521" stop-color="#cacaca"/><stop offset="0.4558" stop-color="#cacaca"/><stop offset="0.4594" stop-color="#cacaca"/><stop offset="0.4631" stop-color="#cacaca"/><stop offset="0.4667" stop-color="#cacaca"/><stop offset="0.4704" stop-color="#cacaca"/><stop offset="0.4741" stop-color="#cacaca"/><stop offset="0.4777" stop-color="#cacaca"/><stop offset="0.4814" stop-color="#cacaca"/><stop offset="0.485" stop-color="#cacaca"/><stop offset="0.4887" stop-color="#cacaca"/><stop offset="0.4923" stop-color="#cacaca"/><stop offset="0.496" stop-color="#cacaca"/><stop offset="0.4996" stop-color="#cacaca"/><stop offset="0.5033" stop-color="#cacaca"/><stop offset="0.5069" stop-color="#cacaca"/><stop offset="0.5106" stop-color="#cacaca"/><stop offset="0.5143" stop-color="#c6c6c6"/><stop offset="0.5179" stop-color="#c6c6c6"/><stop offset="0.5216" stop-color="#c6c6c6"/><stop offset="0.5252" stop-color="#c2c2c2"/><stop offset="0.5289" stop-color="#c2c2c2"/><stop offset="0.5325" stop-color="#c2c2c2"/><stop offset="0.5362" stop-color="#c2c2c2"/><stop offset="0.5398" stop-color="#c2c2c2"/><stop offset="0.5435" stop-color="#c2c2c2"/><stop offset="0.5471" stop-color="#c6c6c6"/><stop offset="0.5508" stop-color="#c2c2c2"/><stop offset="0.5544" stop-color="#c2c2c2"/><stop offset="0.5581" stop-color="#c2c2c2"/><stop offset="0.5618" stop-color="#bebebe"/><stop offset="0.5654" stop-color="#bebebe"/><stop offset="0.5691" stop-color="#c2c2c2"/><stop offset="0.5727" stop-color="#c2c2c2"/><stop offset="0.5764" stop-color="#c2c2c2"/><stop offset="0.58" stop-color="#c2c2c2"/><stop offset="0.5837" stop-color="#c2c2c2"/><stop offset="0.5873" stop-color="#c2c2c2"/><stop offset="0.591" stop-color="#bebebe"/><stop offset="0.5946" stop-color="#bebebe"/><stop offset="0.5983" stop-color="#bebebe"/><stop offset="0.6019" stop-color="#bebebe"/><stop offset="0.6056" stop-color="#bebebe"/><stop offset="0.6093" stop-color="#c2c2c2"/><stop offset="0.6129" stop-color="#c2c2c2"/><stop offset="0.6166" stop-color="#c2c2c2"/><stop offset="0.6202" stop-color="#c2c2c2"/><stop offset="0.6239" stop-color="#c2c2c2"/><stop offset="0.6275" stop-color="#bebebe"/><stop offset="0.6312" stop-color="#bababa"/><stop offset="0.6348" stop-color="#bababa"/><stop offset="0.6385" stop-color="#bababa"/><stop offset="0.6421" stop-color="#bababa"/><stop offset="0.6458" stop-color="#bebebe"/><stop offset="0.6495" stop-color="#bebebe"/><stop offset="0.6531" stop-color="#c2c2c2"/><stop offset="0.6568" stop-color="#c2c2c2"/><stop offset="0.6604" stop-color="#c2c2c2"/><stop offset="0.6641" stop-color="#bebebe"/><stop offset="0.6677" stop-color="#bebebe"/><stop offset="0.6714" stop-color="#bababa"/><stop offset="0.675" stop-color="#b6b6b6"/><stop offset="0.6787" stop-color="#b6b6b6"/><stop offset="0.6823" stop-color="#b6b6b6"/><stop offset="0.686" stop-color="#bababa"/><stop offset="0.6896" stop-color="#bababa"/><stop offset="0.6933" stop-color="#bebebe"/><stop offset="0.697" stop-color="#bebebe"/><stop offset="0.7006" stop-color="#c2c2c2"/><stop offset="0.7043" stop-color="#c2c2c2"/><stop offset="0.7079" stop-color="#bebebe"/><stop offset="0.7116" stop-color="#bababa"/><stop offset="0.7152" stop-color="#bababa"/><stop offset="0.7189" stop-color="#b6b6b6"/><stop offset="0.7225" stop-color="#b2b2b2"/><stop offset="0.7262" stop-color="#b2b2b2"/><stop offset="0.7298" stop-color="#b2b2b2"/><stop offset="0.7335" stop-color="#b6b6b6"/><stop offset="0.7371" stop-color="#bababa"/><stop offset="0.7408" stop-color="#bababa"/><stop offset="0.7445" stop-color="#bebebe"/><stop offset="0.7481" stop-color="#bebebe"/><stop offset="0.7518" stop-color="#bebebe"/><stop offset="0.7554" stop-color="#bebebe"/><stop offset="0.7591" stop-color="#bebebe"/><stop offset="0.7627" stop-color="#bababa"/><stop offset="0.7664" stop-color="#b6b6b6"/><stop offset="0.77" stop-color="#b2b2b2"/><stop offset="0.7737" stop-color="#b2b2b2"/><stop offset="0.7773" stop-color="#aeaeae"/><stop offset="0.781" stop-color="#aeaeae"/><stop offset="0.7847" stop-color="#b2b2b2"/><stop offset="0.7883" stop-color="#b2b2b2"/><stop offset="0.792" stop-color="#b6b6b6"/><stop offset="0.7956" stop-color="#bababa"/><stop offset="0.7993" stop-color="#bababa"/><stop offset="0.8029" stop-color="#bebebe"/><stop offset="0.8066" stop-color="#bebebe"/><stop offset="0.8102" stop-color="#bebebe"/><stop offset="0.8139" stop-color="#bababa"/><stop offset="0.8175" stop-color="#bababa"/><stop offset="0.8212" stop-color="#b6b6b6"/><stop offset="0.8248" stop-color="#b2b2b2"/><stop offset="0.8285" stop-color="#aeaeae"/><stop offset="0.8322" stop-color="#aaaaaa"/><stop offset="0.8358" stop-color="#aaaaaa"/><stop offset="0.8395" stop-color="#aaaaaa"/><stop offset="0.8431" stop-color="#aaaaaa"/><stop offset="0.8468" stop-color="#aeaeae"/><stop offset="0.8504" stop-color="#aeaeae"/><stop offset="0.8541" stop-color="#b2b2b2"/><stop offset="0.8577" stop-color="#b6b6b6"/><stop offset="0.8614" stop-color="#bababa"/><stop offset="0.865" stop-color="#bababa"/><stop offset="0.8687" stop-color="#bababa"/><stop offset="0.8724" stop-color="#bababa"/><stop offset="0.876" stop-color="#bababa"/><stop offset="0.8797" stop-color="#b6b6b6"/><stop offset="0.8833" stop-color="#b6b6b6"/><stop offset="0.887" stop-color="#b2b2b2"/><stop offset="0.8906" stop-color="#aeaeae"/><stop offset="0.8943" stop-color="#aaaaaa"/><stop offset="0.8979" stop-color="#aaaaaa"/><stop offset="0.9016" stop-color="#a6a6a6"/><stop offset="0.9052" stop-color="#a6a6a6"/><stop offset="0.9089" stop-color="#a6a6a6"/><stop offset="0.9125" stop-color="#aaaaaa"/><stop offset="0.9162" stop-color="#aaaaaa"/><stop offset="0.9199" stop-color="#aeaeae"/><stop offset="0.9235" stop-color="#b2b2b2"/><stop offset="0.9272" stop-color="#b2b2b2"/><stop offset="0.9308" stop-color="#b6b6b6"/><stop offset="0.9345" stop-color="#b6b6b6"/><stop offset="0.9381" stop-color="#bababa"/><stop offset="0.9418" stop-color="#bababa"/><stop offset="0.9454" stop-color="#bababa"/><stop offset="0.9491" stop-color="#b6b6b6"/><stop offset="0.9527" stop-color="#b6b6b6"/><stop offset="0.9564" stop-color="#b2b2b2"/><stop offset="0.96" stop-color="#aeaeae"/><stop offset="0.9637" stop-color="#aeaeae"/><stop offset="0.9674" stop-color="#aaaaaa"/><stop offset="0.971" stop-color="#a6a6a6"/><stop offset="0.9747" stop-color="#a6a6a6"/><stop offset="0.9783" stop-color="#a2a2a2"/><stop offset="0.982" stop-color="#a2a2a2"/><stop offset="0.9856" stop-color="#a2a2a2"/><stop offset="0.9893" stop-color="#a2a2a2"/><stop offset="0.9929" stop-color="#a6a6a6"/><stop offset="0.9966" stop-color="#a6a6a6"/><stop offset="1" stop-color="#aaaaaa"/></linearGradient><linearGradient id="cr6" gradientUnits="userSpaceOnUse" x1="78.8" y1="0" x2="899.8" y2="0"><stop offset="0" stop-color="#cecece"/><stop offset="0.0021" stop-color="#cecece"/><stop offset="0.0069" stop-color="#e2e2e2"/><stop offset="0.0203" stop-color="#e2e2e2"/><stop offset="0.0264" stop-color="#f2f2f2"/><stop offset="0.0544" stop-color="#f2f2f2"/><stop offset="0.0605" stop-color="#eeeeee"/><stop offset="0.0812" stop-color="#eeeeee"/><stop offset="0.0873" stop-color="#fafafa"/><stop offset="0.1227" stop-color="#fafafa"/><stop offset="0.1287" stop-color="#f6f6f6"/><stop offset="0.1762" stop-color="#f6f6f6"/><stop offset="0.1823" stop-color="#fafafa"/><stop offset="0.2238" stop-color="#fafafa"/><stop offset="0.2298" stop-color="#fefefe"/><stop offset="0.2579" stop-color="#fefefe"/><stop offset="0.2639" stop-color="#fefefe"/><stop offset="0.292" stop-color="#fefefe"/><stop offset="0.2981" stop-color="#fafafa"/><stop offset="0.3151" stop-color="#fafafa"/><stop offset="0.3212" stop-color="#f6f6f6"/><stop offset="0.3882" stop-color="#f6f6f6"/><stop offset="0.3943" stop-color="#eeeeee"/><stop offset="0.4521" stop-color="#eeeeee"/><stop offset="0.4558" stop-color="#eeeeee"/><stop offset="0.4594" stop-color="#eeeeee"/><stop offset="0.4631" stop-color="#eeeeee"/><stop offset="0.4667" stop-color="#eeeeee"/><stop offset="0.4704" stop-color="#eeeeee"/><stop offset="0.4741" stop-color="#eeeeee"/><stop offset="0.4777" stop-color="#eeeeee"/><stop offset="0.4814" stop-color="#eeeeee"/><stop offset="0.485" stop-color="#eeeeee"/><stop offset="0.4887" stop-color="#eaeaea"/><stop offset="0.4923" stop-color="#eaeaea"/><stop offset="0.496" stop-color="#eaeaea"/><stop offset="0.4996" stop-color="#eaeaea"/><stop offset="0.5033" stop-color="#eaeaea"/><stop offset="0.5069" stop-color="#eaeaea"/><stop offset="0.5106" stop-color="#eaeaea"/><stop offset="0.5143" stop-color="#eaeaea"/><stop offset="0.5179" stop-color="#eaeaea"/><stop offset="0.5216" stop-color="#eaeaea"/><stop offset="0.5252" stop-color="#eaeaea"/><stop offset="0.5289" stop-color="#eaeaea"/><stop offset="0.5325" stop-color="#eaeaea"/><stop offset="0.5362" stop-color="#eaeaea"/><stop offset="0.5398" stop-color="#eaeaea"/><stop offset="0.5435" stop-color="#eaeaea"/><stop offset="0.5471" stop-color="#eaeaea"/><stop offset="0.5508" stop-color="#eaeaea"/><stop offset="0.5544" stop-color="#eaeaea"/><stop offset="0.5581" stop-color="#eaeaea"/><stop offset="0.5618" stop-color="#eaeaea"/><stop offset="0.5654" stop-color="#eaeaea"/><stop offset="0.5691" stop-color="#eaeaea"/><stop offset="0.5727" stop-color="#eaeaea"/><stop offset="0.5764" stop-color="#eaeaea"/><stop offset="0.58" stop-color="#eaeaea"/><stop offset="0.5837" stop-color="#eaeaea"/><stop offset="0.5873" stop-color="#e6e6e6"/><stop offset="0.591" stop-color="#e2e2e2"/><stop offset="0.5946" stop-color="#e2e2e2"/><stop offset="0.5983" stop-color="#e2e2e2"/><stop offset="0.6019" stop-color="#e2e2e2"/><stop offset="0.6056" stop-color="#e2e2e2"/><stop offset="0.6093" stop-color="#e2e2e2"/><stop offset="0.6129" stop-color="#e2e2e2"/><stop offset="0.6166" stop-color="#e2e2e2"/><stop offset="0.6202" stop-color="#e2e2e2"/><stop offset="0.6239" stop-color="#e2e2e2"/><stop offset="0.6275" stop-color="#dedede"/><stop offset="0.6312" stop-color="#dedede"/><stop offset="0.6348" stop-color="#dedede"/><stop offset="0.6385" stop-color="#dedede"/><stop offset="0.6421" stop-color="#dedede"/><stop offset="0.6458" stop-color="#dedede"/><stop offset="0.6495" stop-color="#dedede"/><stop offset="0.6531" stop-color="#dedede"/><stop offset="0.6568" stop-color="#dedede"/><stop offset="0.6604" stop-color="#dedede"/><stop offset="0.6641" stop-color="#dedede"/><stop offset="0.6677" stop-color="#dedede"/><stop offset="0.6714" stop-color="#dadada"/><stop offset="0.675" stop-color="#dadada"/><stop offset="0.6787" stop-color="#dadada"/><stop offset="0.6823" stop-color="#dadada"/><stop offset="0.686" stop-color="#dadada"/><stop offset="0.6896" stop-color="#dadada"/><stop offset="0.6933" stop-color="#dadada"/><stop offset="0.697" stop-color="#dadada"/><stop offset="0.7006" stop-color="#dadada"/><stop offset="0.7043" stop-color="#dadada"/><stop offset="0.7079" stop-color="#dadada"/><stop offset="0.7116" stop-color="#dadada"/><stop offset="0.7152" stop-color="#dadada"/><stop offset="0.7189" stop-color="#d6d6d6"/><stop offset="0.7225" stop-color="#d6d6d6"/><stop offset="0.7262" stop-color="#d6d6d6"/><stop offset="0.7298" stop-color="#d6d6d6"/><stop offset="0.7335" stop-color="#d2d2d2"/><stop offset="0.7371" stop-color="#d6d6d6"/><stop offset="0.7408" stop-color="#d6d6d6"/><stop offset="0.7445" stop-color="#d6d6d6"/><stop offset="0.7481" stop-color="#d6d6d6"/><stop offset="0.7518" stop-color="#d6d6d6"/><stop offset="0.7554" stop-color="#d6d6d6"/><stop offset="0.7591" stop-color="#d6d6d6"/><stop offset="0.7627" stop-color="#d6d6d6"/><stop offset="0.7664" stop-color="#d6d6d6"/><stop offset="0.77" stop-color="#d2d2d2"/><stop offset="0.7737" stop-color="#d2d2d2"/><stop offset="0.7773" stop-color="#d2d2d2"/><stop offset="0.781" stop-color="#d2d2d2"/><stop offset="0.7847" stop-color="#cecece"/><stop offset="0.7883" stop-color="#cecece"/><stop offset="0.792" stop-color="#d2d2d2"/><stop offset="0.7956" stop-color="#d2d2d2"/><stop offset="0.7993" stop-color="#d2d2d2"/><stop offset="0.8029" stop-color="#d2d2d2"/><stop offset="0.8066" stop-color="#d2d2d2"/><stop offset="0.8102" stop-color="#d2d2d2"/><stop offset="0.8139" stop-color="#d2d2d2"/><stop offset="0.8175" stop-color="#d2d2d2"/><stop offset="0.8212" stop-color="#d2d2d2"/><stop offset="0.8248" stop-color="#d2d2d2"/><stop offset="0.8285" stop-color="#d2d2d2"/><stop offset="0.8322" stop-color="#cecece"/><stop offset="0.8358" stop-color="#cecece"/><stop offset="0.8395" stop-color="#cecece"/><stop offset="0.8431" stop-color="#cecece"/><stop offset="0.8468" stop-color="#cecece"/><stop offset="0.8504" stop-color="#cecece"/><stop offset="0.8541" stop-color="#cecece"/><stop offset="0.8577" stop-color="#cecece"/><stop offset="0.8614" stop-color="#cecece"/><stop offset="0.865" stop-color="#d2d2d2"/><stop offset="0.8687" stop-color="#d2d2d2"/><stop offset="0.8724" stop-color="#d2d2d2"/><stop offset="0.876" stop-color="#d2d2d2"/><stop offset="0.8797" stop-color="#d2d2d2"/><stop offset="0.8833" stop-color="#d2d2d2"/><stop offset="0.887" stop-color="#cecece"/><stop offset="0.8906" stop-color="#cecece"/><stop offset="0.8943" stop-color="#cecece"/><stop offset="0.8979" stop-color="#cacaca"/><stop offset="0.9016" stop-color="#cacaca"/><stop offset="0.9052" stop-color="#cacaca"/><stop offset="0.9089" stop-color="#cacaca"/><stop offset="0.9125" stop-color="#cacaca"/><stop offset="0.9162" stop-color="#cacaca"/><stop offset="0.9199" stop-color="#cacaca"/><stop offset="0.9235" stop-color="#cacaca"/><stop offset="0.9272" stop-color="#cacaca"/><stop offset="0.9308" stop-color="#cacaca"/><stop offset="0.9345" stop-color="#cecece"/><stop offset="0.9381" stop-color="#cecece"/><stop offset="0.9418" stop-color="#cecece"/><stop offset="0.9454" stop-color="#cecece"/><stop offset="0.9491" stop-color="#cecece"/><stop offset="0.9527" stop-color="#cecece"/><stop offset="0.9564" stop-color="#cecece"/><stop offset="0.96" stop-color="#cacaca"/><stop offset="0.9637" stop-color="#cacaca"/><stop offset="0.9674" stop-color="#cacaca"/><stop offset="0.971" stop-color="#cacaca"/><stop offset="0.9747" stop-color="#c6c6c6"/><stop offset="0.9783" stop-color="#c6c6c6"/><stop offset="0.982" stop-color="#c6c6c6"/><stop offset="0.9856" stop-color="#c6c6c6"/><stop offset="0.9893" stop-color="#c6c6c6"/><stop offset="0.9929" stop-color="#c6c6c6"/><stop offset="0.9966" stop-color="#c6c6c6"/><stop offset="1" stop-color="#c6c6c6"/></linearGradient><linearGradient id="cr7" gradientUnits="userSpaceOnUse" x1="78.8" y1="0" x2="899.8" y2="0"><stop offset="0" stop-color="#a6a6a6"/><stop offset="0.0027" stop-color="#a6a6a6"/><stop offset="0.0088" stop-color="#bababa"/><stop offset="0.0155" stop-color="#b2b2b2"/><stop offset="0.0203" stop-color="#b2b2b2"/><stop offset="0.0264" stop-color="#dadada"/><stop offset="0.0301" stop-color="#dadada"/><stop offset="0.0362" stop-color="#e6e6e6"/><stop offset="0.0508" stop-color="#e6e6e6"/><stop offset="0.0569" stop-color="#eeeeee"/><stop offset="0.0654" stop-color="#eeeeee"/><stop offset="0.0715" stop-color="#fefefe"/><stop offset="0.0886" stop-color="#fefefe"/><stop offset="0.0946" stop-color="#f2f2f2"/><stop offset="0.1044" stop-color="#f2f2f2"/><stop offset="0.1105" stop-color="#f2f2f2"/><stop offset="0.1239" stop-color="#f2f2f2"/><stop offset="0.13" stop-color="#f2f2f2"/><stop offset="0.1446" stop-color="#f2f2f2"/><stop offset="0.1507" stop-color="#f6f6f6"/><stop offset="0.1762" stop-color="#f6f6f6"/><stop offset="0.1823" stop-color="#fafafa"/><stop offset="0.2238" stop-color="#fafafa"/><stop offset="0.2298" stop-color="#f6f6f6"/><stop offset="0.2542" stop-color="#f6f6f6"/><stop offset="0.2603" stop-color="#fefefe"/><stop offset="0.292" stop-color="#fefefe"/><stop offset="0.2981" stop-color="#f6f6f6"/><stop offset="0.3151" stop-color="#f6f6f6"/><stop offset="0.3212" stop-color="#f6f6f6"/><stop offset="0.3309" stop-color="#f6f6f6"/><stop offset="0.337" stop-color="#fefefe"/><stop offset="0.3675" stop-color="#fefefe"/><stop offset="0.3736" stop-color="#f6f6f6"/><stop offset="0.4186" stop-color="#f6f6f6"/><stop offset="0.4247" stop-color="#f6f6f6"/><stop offset="0.4521" stop-color="#f6f6f6"/><stop offset="0.4558" stop-color="#f6f6f6"/><stop offset="0.4594" stop-color="#f6f6f6"/><stop offset="0.4631" stop-color="#f6f6f6"/><stop offset="0.4667" stop-color="#f6f6f6"/><stop offset="0.4704" stop-color="#f6f6f6"/><stop offset="0.4741" stop-color="#f2f2f2"/><stop offset="0.4777" stop-color="#eeeeee"/><stop offset="0.4814" stop-color="#eeeeee"/><stop offset="0.485" stop-color="#eeeeee"/><stop offset="0.4887" stop-color="#eeeeee"/><stop offset="0.4923" stop-color="#eeeeee"/><stop offset="0.496" stop-color="#eeeeee"/><stop offset="0.4996" stop-color="#eeeeee"/><stop offset="0.5033" stop-color="#eeeeee"/><stop offset="0.5069" stop-color="#eeeeee"/><stop offset="0.5106" stop-color="#eeeeee"/><stop offset="0.5143" stop-color="#eeeeee"/><stop offset="0.5179" stop-color="#eeeeee"/><stop offset="0.5216" stop-color="#eeeeee"/><stop offset="0.5252" stop-color="#eeeeee"/><stop offset="0.5289" stop-color="#eeeeee"/><stop offset="0.5325" stop-color="#eeeeee"/><stop offset="0.5362" stop-color="#eeeeee"/><stop offset="0.5398" stop-color="#eaeaea"/><stop offset="0.5435" stop-color="#eaeaea"/><stop offset="0.5471" stop-color="#eaeaea"/><stop offset="0.5508" stop-color="#eaeaea"/><stop offset="0.5544" stop-color="#eaeaea"/><stop offset="0.5581" stop-color="#eaeaea"/><stop offset="0.5618" stop-color="#eaeaea"/><stop offset="0.5654" stop-color="#eaeaea"/><stop offset="0.5691" stop-color="#eaeaea"/><stop offset="0.5727" stop-color="#eaeaea"/><stop offset="0.5764" stop-color="#eaeaea"/><stop offset="0.58" stop-color="#eaeaea"/><stop offset="0.5837" stop-color="#eaeaea"/><stop offset="0.5873" stop-color="#e6e6e6"/><stop offset="0.591" stop-color="#e6e6e6"/><stop offset="0.5946" stop-color="#e2e2e2"/><stop offset="0.5983" stop-color="#e2e2e2"/><stop offset="0.6019" stop-color="#e2e2e2"/><stop offset="0.6056" stop-color="#e2e2e2"/><stop offset="0.6093" stop-color="#e2e2e2"/><stop offset="0.6129" stop-color="#e2e2e2"/><stop offset="0.6166" stop-color="#e2e2e2"/><stop offset="0.6202" stop-color="#e2e2e2"/><stop offset="0.6239" stop-color="#e2e2e2"/><stop offset="0.6275" stop-color="#e2e2e2"/><stop offset="0.6312" stop-color="#e2e2e2"/><stop offset="0.6348" stop-color="#dedede"/><stop offset="0.6385" stop-color="#dedede"/><stop offset="0.6421" stop-color="#dedede"/><stop offset="0.6458" stop-color="#dedede"/><stop offset="0.6495" stop-color="#dedede"/><stop offset="0.6531" stop-color="#dedede"/><stop offset="0.6568" stop-color="#dedede"/><stop offset="0.6604" stop-color="#dedede"/><stop offset="0.6641" stop-color="#dedede"/><stop offset="0.6677" stop-color="#dedede"/><stop offset="0.6714" stop-color="#dedede"/><stop offset="0.675" stop-color="#dedede"/><stop offset="0.6787" stop-color="#dadada"/><stop offset="0.6823" stop-color="#dadada"/><stop offset="0.686" stop-color="#dadada"/><stop offset="0.6896" stop-color="#dadada"/><stop offset="0.6933" stop-color="#dadada"/><stop offset="0.697" stop-color="#dadada"/><stop offset="0.7006" stop-color="#dedede"/><stop offset="0.7043" stop-color="#dedede"/><stop offset="0.7079" stop-color="#dedede"/><stop offset="0.7116" stop-color="#dadada"/><stop offset="0.7152" stop-color="#dadada"/><stop offset="0.7189" stop-color="#dadada"/><stop offset="0.7225" stop-color="#dadada"/><stop offset="0.7262" stop-color="#d6d6d6"/><stop offset="0.7298" stop-color="#d6d6d6"/><stop offset="0.7335" stop-color="#d6d6d6"/><stop offset="0.7371" stop-color="#d6d6d6"/><stop offset="0.7408" stop-color="#d6d6d6"/><stop offset="0.7445" stop-color="#d6d6d6"/><stop offset="0.7481" stop-color="#dadada"/><stop offset="0.7518" stop-color="#dadada"/><stop offset="0.7554" stop-color="#dadada"/><stop offset="0.7591" stop-color="#dadada"/><stop offset="0.7627" stop-color="#d6d6d6"/><stop offset="0.7664" stop-color="#d6d6d6"/><stop offset="0.77" stop-color="#d6d6d6"/><stop offset="0.7737" stop-color="#d6d6d6"/><stop offset="0.7773" stop-color="#d2d2d2"/><stop offset="0.781" stop-color="#d2d2d2"/><stop offset="0.7847" stop-color="#d2d2d2"/><stop offset="0.7883" stop-color="#d2d2d2"/><stop offset="0.792" stop-color="#d2d2d2"/><stop offset="0.7956" stop-color="#d2d2d2"/><stop offset="0.7993" stop-color="#d2d2d2"/><stop offset="0.8029" stop-color="#d6d6d6"/><stop offset="0.8066" stop-color="#d6d6d6"/><stop offset="0.8102" stop-color="#d6d6d6"/><stop offset="0.8139" stop-color="#d6d6d6"/><stop offset="0.8175" stop-color="#d6d6d6"/><stop offset="0.8212" stop-color="#d2d2d2"/><stop offset="0.8248" stop-color="#d2d2d2"/><stop offset="0.8285" stop-color="#d2d2d2"/><stop offset="0.8322" stop-color="#cecece"/><stop offset="0.8358" stop-color="#cecece"/><stop offset="0.8395" stop-color="#cecece"/><stop offset="0.8431" stop-color="#cecece"/><stop offset="0.8468" stop-color="#cecece"/><stop offset="0.8504" stop-color="#cecece"/><stop offset="0.8541" stop-color="#cecece"/><stop offset="0.8577" stop-color="#cecece"/><stop offset="0.8614" stop-color="#d2d2d2"/><stop offset="0.865" stop-color="#d2d2d2"/><stop offset="0.8687" stop-color="#d2d2d2"/><stop offset="0.8724" stop-color="#d2d2d2"/><stop offset="0.876" stop-color="#d2d2d2"/><stop offset="0.8797" stop-color="#d2d2d2"/><stop offset="0.8833" stop-color="#d2d2d2"/><stop offset="0.887" stop-color="#cecece"/><stop offset="0.8906" stop-color="#cecece"/><stop offset="0.8943" stop-color="#cecece"/><stop offset="0.8979" stop-color="#cecece"/><stop offset="0.9016" stop-color="#cacaca"/><stop offset="0.9052" stop-color="#cacaca"/><stop offset="0.9089" stop-color="#cacaca"/><stop offset="0.9125" stop-color="#cacaca"/><stop offset="0.9162" stop-color="#cacaca"/><stop offset="0.9199" stop-color="#cacaca"/><stop offset="0.9235" stop-color="#cacaca"/><stop offset="0.9272" stop-color="#cacaca"/><stop offset="0.9308" stop-color="#cacaca"/><stop offset="0.9345" stop-color="#cecece"/><stop offset="0.9381" stop-color="#cecece"/><stop offset="0.9418" stop-color="#cecece"/><stop offset="0.9454" stop-color="#cecece"/><stop offset="0.9491" stop-color="#cecece"/><stop offset="0.9527" stop-color="#cecece"/><stop offset="0.9564" stop-color="#cecece"/><stop offset="0.96" stop-color="#cacaca"/><stop offset="0.9637" stop-color="#cacaca"/><stop offset="0.9674" stop-color="#cacaca"/><stop offset="0.971" stop-color="#cacaca"/><stop offset="0.9747" stop-color="#c6c6c6"/><stop offset="0.9783" stop-color="#c6c6c6"/><stop offset="0.982" stop-color="#c6c6c6"/><stop offset="0.9856" stop-color="#c6c6c6"/><stop offset="0.9893" stop-color="#c6c6c6"/><stop offset="0.9929" stop-color="#c6c6c6"/><stop offset="0.9966" stop-color="#c6c6c6"/><stop offset="1" stop-color="#c6c6c6"/></linearGradient><clipPath id="cc"><rect x="78.8" y="1184.5" width="821" height="404.3"/></clipPath></defs>
<g clip-path="url(#cc)" filter="url(#jetb)">
<rect x="77" y="1174" width="824" height="11" fill="url(#cr0)"/>
<rect x="77" y="1588" width="824" height="11" fill="url(#cr7)"/>
<rect x="77" y="1184" width="824" height="58" fill="url(#cr0)"/>
<rect x="77" y="1184" width="824" height="58" fill="url(#cr1)" mask="url(#vm)"/>
<rect x="77" y="1242" width="824" height="58" fill="url(#cr1)"/>
<rect x="77" y="1242" width="824" height="58" fill="url(#cr2)" mask="url(#vm)"/>
<rect x="77" y="1300" width="824" height="58" fill="url(#cr2)"/>
<rect x="77" y="1300" width="824" height="58" fill="url(#cr3)" mask="url(#vm)"/>
<rect x="77" y="1358" width="824" height="58" fill="url(#cr3)"/>
<rect x="77" y="1358" width="824" height="58" fill="url(#cr4)" mask="url(#vm)"/>
<rect x="77" y="1416" width="824" height="57" fill="url(#cr4)"/>
<rect x="77" y="1416" width="824" height="57" fill="url(#cr5)" mask="url(#vm)"/>
<rect x="77" y="1473" width="824" height="58" fill="url(#cr5)"/>
<rect x="77" y="1473" width="824" height="58" fill="url(#cr6)" mask="url(#vm)"/>
<rect x="77" y="1531" width="824" height="58" fill="url(#cr6)"/>
<rect x="77" y="1531" width="824" height="58" fill="url(#cr7)" mask="url(#vm)"/>
</g>
<g filter="url(#jet)"><rect x="926" y="1184.5" width="16" height="404.3" fill="url(#cbg)"/></g>
<rect x="926" y="1184.5" width="1" height="404.3" fill="#262626" opacity="0.75"/>
<rect x="941.3" y="1184.5" width="0.7" height="404.3" fill="#262626" opacity="0.45"/>
<rect x="938" y="1244.645" width="4" height="1" fill="#262626" opacity="0.8"/>
<rect x="938" y="1305.29" width="4" height="1" fill="#262626" opacity="0.8"/>
<rect x="938" y="1365.935" width="4" height="1" fill="#262626" opacity="0.8"/>
<rect x="938" y="1426.58" width="4" height="1" fill="#262626" opacity="0.8"/>
<rect x="938" y="1487.225" width="4" height="1" fill="#262626" opacity="0.8"/>
<rect x="938" y="1547.87" width="4" height="1" fill="#262626" opacity="0.8"/>
<g opacity="0.999"><text x="501" y="1164.7" text-anchor="middle" style="font-size:49px;fill:#000">(c)</text>
<text x="78.3" y="1624.4" text-anchor="middle" class="t">0.2</text>
<text x="394.0692" y="1624.4" text-anchor="middle" class="t">0.7</text>
<text x="709.8385" y="1624.4" text-anchor="middle" class="t">1.2</text>
<text x="899.3" y="1624.4" text-anchor="middle" class="t">1.5</text>
<text x="488.7" y="1660.8" text-anchor="middle" style="font-size:30px">Wavelength (<tspan font-style="italic" font-weight="normal" dx="1">μ</tspan><tspan dx="1">m)</tspan></text>
<text x="71" y="1599.7" text-anchor="end" class="t">0</text>
<text x="71" y="1541.9429" text-anchor="end" class="t">10</text>
<text x="71" y="1484.1857" text-anchor="end" class="t">20</text>
<text x="71" y="1426.4286" text-anchor="end" class="t">30</text>
<text x="71" y="1368.6714" text-anchor="end" class="t">40</text>
<text x="71" y="1310.9143" text-anchor="end" class="t">50</text>
<text x="71" y="1253.1571" text-anchor="end" class="t">60</text>
<text x="71" y="1195.4" text-anchor="end" class="t">70</text>
<text x="950.5" y="1195.4" text-anchor="start" class="t">1</text>
<text x="950.5" y="1256.045" text-anchor="start" class="t">0.85</text>
<text x="950.5" y="1316.69" text-anchor="start" class="t">0.7</text>
<text x="950.5" y="1377.335" text-anchor="start" class="t">0.55</text>
<text x="950.5" y="1437.98" text-anchor="start" class="t">0.4</text>
<text x="950.5" y="1498.625" text-anchor="start" class="t">0.25</text>
<text x="950.5" y="1559.27" text-anchor="start" class="t">0.1</text>
<text transform="translate(31.4 1389.4) rotate(-90)" text-anchor="middle" style="font-size:31.3px">Angle of incidence (deg)</text></g>
</svg>
</body></html>
